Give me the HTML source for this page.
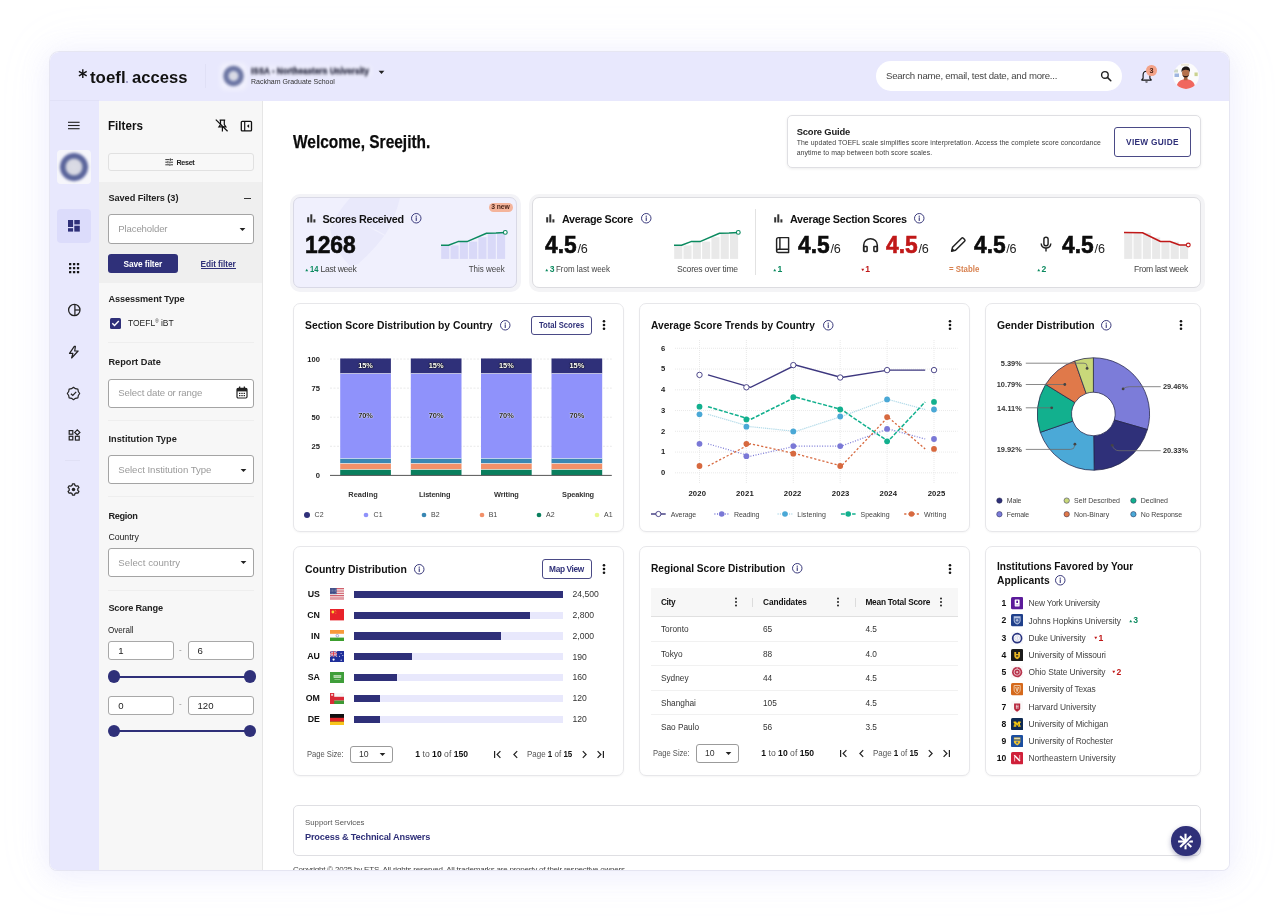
<!DOCTYPE html>
<html><head><meta charset="utf-8"><title>TOEFL Access</title>
<style>
*{box-sizing:border-box;margin:0;padding:0}
html,body{width:1280px;height:918px;overflow:hidden;background:#fff;font-family:"Liberation Sans",sans-serif;}
.t{position:absolute;white-space:nowrap;line-height:1;}
.frame{position:absolute;left:50px;top:52px;width:1179.2px;height:818.3px;border-radius:9px 9px 7px 7px;background:#fff;overflow:hidden;}
.shadow{position:absolute;left:50px;top:52px;width:1179.2px;height:818.3px;border-radius:9px 9px 7px 7px;box-shadow:0 0 0 1px rgba(224,224,238,.75),0 4px 26px 3px rgba(185,185,245,.19),0 0 50px 8px rgba(200,200,250,.07);}
.o{position:absolute;left:-50px;top:-52px;width:1280px;height:918px;will-change:transform;}
.card{position:absolute;background:#fff;border:1px solid #e7e7ea;border-radius:7px;box-shadow:0 1px 2px rgba(0,0,0,.04);}
b{font-weight:700}
</style></head><body>
<div class="shadow"></div>
<div class="frame"><div class="o">
<div style="position:absolute;left:50.00px;top:51.00px;width:1180.00px;height:49.60px;background:#e8e8fd;"></div>
<svg style="position:absolute;left:78.40px;top:68.90px;" width="9.6" height="9.4" viewBox="0 0 9.6 9.4"><g stroke="#111" stroke-width="1.4" stroke-linecap="butt"><line x1="4.8" y1="0.3" x2="4.8" y2="9"/><line x1="0.9" y1="2.4" x2="8.7" y2="6.9"/><line x1="0.9" y1="6.9" x2="8.7" y2="2.4"/></g></svg>
<div class="t" style="top:68.61px;font-size:17px;color:#111;font-weight:700;transform:scaleX(0.9920);transform-origin:0 50%;left:89.80px;">toefl</div>
<div style="position:absolute;left:126.10px;top:80.60px;width:2.30px;height:2.30px;background:#8d8db8;border-radius:50%;"></div>
<div class="t" style="top:68.61px;font-size:17px;color:#111;font-weight:700;transform:scaleX(0.9766);transform-origin:0 50%;left:131.60px;">access</div>
<div style="position:absolute;left:204.50px;top:64.00px;width:1.00px;height:24.00px;background:#e0e0f6;"></div>
<div style="position:absolute;left:220.00px;top:62.50px;width:27.00px;height:27.00px;background:rgba(255,255,255,.45);border-radius:6px;filter:blur(2.5px);"></div>
<div style="position:absolute;left:250.00px;top:65.00px;width:122.00px;height:12.00px;background:rgba(255,255,255,.28);border-radius:4px;filter:blur(2.5px);"></div>
<div style="position:absolute;left:221.50px;top:64.30px;width:23.50px;height:23.50px;border-radius:50%;background:radial-gradient(circle,#dcdde6 0,#d6d8e4 3.6px,#6e78a8 6.2px,#69739f 8.6px,#c9cce4 10.8px,rgba(232,232,253,0) 11.8px);filter:blur(1.1px);"></div>
<div class="t" style="top:66.47px;font-size:9.6px;color:#2c2d45;font-weight:700;transform:scaleX(0.8464);transform-origin:0 50%;left:251.00px;filter:blur(1.35px);-webkit-text-stroke:.4px #2c2d45;">ISSA - Northeastern University</div>
<div class="t" style="top:77.87px;font-size:7.6px;color:#333;transform:scaleX(0.9205);transform-origin:0 50%;left:251.00px;">Rackham Graduate School</div>
<svg style="position:absolute;left:377.50px;top:69.50px;" width="7" height="5" viewBox="0 0 7 5"><path d="M0.6 0.8 L6.4 0.8 L3.5 4 Z" fill="#222"/></svg>
<div style="position:absolute;left:875.50px;top:61.30px;width:246.50px;height:30.00px;background:#fff;border-radius:15px;"></div>
<div class="t" style="top:71.37px;font-size:9.6px;color:#444;letter-spacing:-0.242px;left:886.00px;">Search name, email, test date, and more...</div>
<svg style="position:absolute;left:1099.50px;top:70.00px;" width="12" height="12" viewBox="0 0 12 12"><circle cx="4.9" cy="4.9" r="3.3" fill="none" stroke="#222" stroke-width="1.4"/><line x1="7.4" y1="7.4" x2="10.8" y2="10.8" stroke="#222" stroke-width="1.5" stroke-linecap="round"/></svg>
<svg style="position:absolute;left:1139.50px;top:68.50px;" width="13" height="15" viewBox="0 0 13 15"><path d="M6.5 2.2 C4.2 2.2 3.1 3.9 3.1 6 L3.1 9.3 L1.8 10.6 L1.8 11.1 L11.2 11.1 L11.2 10.6 L9.9 9.3 L9.9 6 C9.9 3.9 8.8 2.2 6.5 2.2 Z" fill="none" stroke="#111" stroke-width="1.1" stroke-linejoin="round"/><path d="M5.3 12.4 a1.2 1.2 0 0 0 2.4 0 Z" fill="#111"/></svg>
<div style="position:absolute;left:1146.20px;top:65.20px;width:10.40px;height:10.40px;background:#f3a288;border-radius:50%;"></div>
<div class="t" style="top:66.91px;font-size:7.2px;color:#4a2015;font-weight:700;left:1149.40px;">3</div>
<svg style="position:absolute;left:1172.80px;top:63.10px;" width="26" height="26" viewBox="0 0 26 26"><defs><clipPath id="av"><circle cx="13" cy="13" r="12.9"/></clipPath></defs><g clip-path="url(#av)"><rect width="26" height="26" fill="#fbfbfc"/><rect x="1" y="6.5" width="4" height="3" fill="#b9c9b0" opacity=".7"/><rect x="1.5" y="10.5" width="4.5" height="3.5" fill="#6b8fd0" opacity=".65"/><rect x="21.5" y="9.5" width="3.2" height="3.6" fill="#b9c46c" opacity=".75"/><rect x="8" y="0.8" width="8" height="2" fill="#e8dcc0" opacity=".6"/><path d="M3.2 26 C3.6 18.5 8 16.3 12.8 16.3 C17.6 16.3 22 18.5 22.4 26 Z" fill="#f0675f"/><rect x="10.9" y="13" width="3.6" height="4.2" fill="#a4633f"/><ellipse cx="12.7" cy="10.1" rx="3.7" ry="4.6" fill="#b4714c"/><path d="M8.6 9.6 C8.1 4.8 10.6 3.6 12.9 3.6 C15.4 3.6 17.6 4.9 16.9 9.7 C16.4 7.5 15.6 6.7 12.8 6.7 C10 6.7 9.2 7.6 8.6 9.6 Z" fill="#1c1512"/><path d="M9.5 11.8 C10.2 15.3 15.2 15.3 15.9 11.8 C15 13.4 10.4 13.4 9.5 11.8 Z" fill="#2a1c16"/></g></svg>
<div style="position:absolute;left:50.00px;top:100.50px;width:48.50px;height:770.00px;background:#e8e8fd;"></div>
<div style="position:absolute;left:50.00px;top:100.10px;width:48.50px;height:1.00px;background:#e1e1f7;"></div>
<div style="position:absolute;left:98.50px;top:100.50px;width:164.00px;height:770.00px;background:#f7f7f7;border-right:1px solid #e6e6e6;"></div>
<svg style="position:absolute;left:68.00px;top:120.60px;" width="12" height="9" viewBox="0 0 12 9"><g fill="#222"><rect x="0" y="0.75" width="11.6" height="1.1"/><rect x="0" y="3.95" width="11.6" height="1.1"/><rect x="0" y="7.15" width="11.6" height="1.1"/></g></svg>
<div style="position:absolute;left:57.00px;top:150.00px;width:33.50px;height:34.00px;background:#f6f6fb;border-radius:4px;filter:blur(.7px);"></div>
<div style="position:absolute;left:58.50px;top:151.70px;width:30.60px;height:30.60px;border-radius:50%;background:radial-gradient(circle,#dcdde6 0,#d6d7e2 7px,#5f6a9c 9.5px,#56609a 12.5px,#cfd2e6 14.8px,rgba(246,246,251,0) 15.3px);filter:blur(.8px);"></div>
<div style="position:absolute;left:56.60px;top:209.00px;width:34.20px;height:33.60px;background:#dcdcfb;border-radius:4px;"></div>
<svg style="position:absolute;left:68.00px;top:220.30px;" width="12" height="12" viewBox="0 0 12 12"><g fill="#2f3079"><rect x="0" y="0" width="5.1" height="7"/><rect x="6.3" y="0" width="5.5" height="4.4"/><rect x="0" y="8.2" width="5.1" height="3.4"/><rect x="6.3" y="5.7" width="5.5" height="5.9"/></g></svg>
<svg style="position:absolute;left:68.90px;top:262.90px;" width="11" height="11" viewBox="0 0 11 11"><rect x="0.0" y="0.0" width="2.3" height="2.3" rx=".5" fill="#151515"/><rect x="0.0" y="3.95" width="2.3" height="2.3" rx=".5" fill="#151515"/><rect x="0.0" y="7.9" width="2.3" height="2.3" rx=".5" fill="#151515"/><rect x="3.95" y="0.0" width="2.3" height="2.3" rx=".5" fill="#151515"/><rect x="3.95" y="3.95" width="2.3" height="2.3" rx=".5" fill="#151515"/><rect x="3.95" y="7.9" width="2.3" height="2.3" rx=".5" fill="#151515"/><rect x="7.9" y="0.0" width="2.3" height="2.3" rx=".5" fill="#151515"/><rect x="7.9" y="3.95" width="2.3" height="2.3" rx=".5" fill="#151515"/><rect x="7.9" y="7.9" width="2.3" height="2.3" rx=".5" fill="#151515"/></svg>
<svg style="position:absolute;left:66.70px;top:302.70px;" width="15" height="15" viewBox="0 0 15 15"><g fill="none" stroke="#222" stroke-width="1.25"><circle cx="7.3" cy="7" r="5.7"/><line x1="7.9" y1="1.3" x2="7.9" y2="12.7"/><line x1="7.9" y1="7" x2="13" y2="7"/></g></svg>
<svg style="position:absolute;left:68.20px;top:344.50px;" width="12" height="15" viewBox="0 0 12 15"><path d="M6.3 1.3 L1.5 8.4 L4.9 8.4 L3.6 13 L10.1 6 L6.7 6 L7.4 1.3 Z" fill="none" stroke="#222" stroke-width="1.2" stroke-linejoin="round"/></svg>
<svg style="position:absolute;left:66.30px;top:385.90px;" width="15" height="15" viewBox="0 0 15 15"><path d="M7.50 1.30 L9.49 2.70 L11.88 3.12 L12.30 5.51 L13.70 7.50 L12.30 9.49 L11.88 11.88 L9.49 12.30 L7.50 13.70 L5.51 12.30 L3.12 11.88 L2.70 9.49 L1.30 7.50 L2.70 5.51 L3.12 3.12 L5.51 2.70 Z" fill="none" stroke="#222" stroke-width="1.2" stroke-linejoin="round"/><path d="M4.9 7.7 L6.8 9.5 L10.2 5.9" fill="none" stroke="#222" stroke-width="1.2"/></svg>
<svg style="position:absolute;left:67.60px;top:429.40px;" width="13" height="12.5" viewBox="0 0 13 12.5"><g fill="none" stroke="#222" stroke-width="1.2"><rect x="1.2" y="1.6" width="3.6" height="3.6"/><rect x="1.2" y="7.3" width="3.6" height="3.6"/><rect x="7.4" y="7.3" width="3.8" height="3.8"/><path d="M9.3 0.8 L11.9 3.4 L9.3 6 L6.7 3.4 Z"/></g></svg>
<div style="position:absolute;left:65.00px;top:460.00px;width:15.00px;height:1.00px;background:#e0e0f5;"></div>
<svg style="position:absolute;left:66.45px;top:481.90px;" width="15" height="15" viewBox="0 0 15 15"><path d="M6.08 3.39 L6.45 1.85 L8.55 1.85 L8.92 3.39 L10.35 4.22 L11.87 3.77 L12.92 5.58 L11.77 6.67 L11.77 8.33 L12.92 9.42 L11.87 11.23 L10.35 10.78 L8.92 11.61 L8.55 13.15 L6.45 13.15 L6.08 11.61 L4.65 10.78 L3.13 11.23 L2.08 9.42 L3.23 8.33 L3.23 6.67 L2.08 5.58 L3.13 3.77 L4.65 4.22 Z" fill="none" stroke="#222" stroke-width="1.25" stroke-linejoin="round"/><circle cx="7.5" cy="7.5" r="1.75" fill="#222"/></svg>
<div class="t" style="top:119.50px;font-size:12.4px;color:#111;font-weight:700;transform:scaleX(0.9405);transform-origin:0 50%;left:108.40px;">Filters</div>
<svg style="position:absolute;left:214.50px;top:119.20px;" width="13.5" height="13.5" viewBox="0 0 13.5 13.5"><g stroke="#111" stroke-width="1.2" fill="none"><path d="M4.6 1.2 L10.2 1.2 M5.5 1.4 L5.5 5.6 L3.9 7.9 L10.9 7.9 L9.3 5.6 L9.3 1.4 M7.4 8 L7.4 12.6"/><line x1="0.8" y1="0.6" x2="12.6" y2="12.2" stroke-width="1.3"/></g></svg>
<svg style="position:absolute;left:239.70px;top:119.60px;" width="13" height="12.5" viewBox="0 0 13 12.5"><rect x="1.3" y="1.3" width="10.2" height="9.6" rx="1" fill="none" stroke="#111" stroke-width="1.3"/><line x1="4.7" y1="1.3" x2="4.7" y2="10.9" stroke="#111" stroke-width="1.2"/><path d="M6.9 6.1 L9.1 4.2 L9.1 8 Z" fill="#111"/></svg>
<div style="position:absolute;left:108.40px;top:152.50px;width:145.30px;height:18.90px;border:1px solid #e1e1e1;border-radius:3px;background:#f8f8f8;"></div>
<svg style="position:absolute;left:164.60px;top:158.00px;" width="8.5" height="8.5" viewBox="0 0 8.5 8.5"><g stroke="#222" stroke-width=".9" fill="none"><path d="M0.3 1.6 H4.6 M6.2 1.6 H8 M0.3 4.2 H2.1 M3.8 4.2 H8 M0.3 6.8 H4 M5.7 6.8 H8 M5.4 0.4 V2.8 M2.9 3 V5.4 M4.9 5.6 V8"/></g></svg>
<div class="t" style="top:158.51px;font-size:7.2px;color:#222;font-weight:700;letter-spacing:-0.328px;left:176.50px;">Reset</div>
<div style="position:absolute;left:98.50px;top:182.00px;width:163.50px;height:101.00px;background:#efefef;"></div>
<div class="t" style="top:194.21px;font-size:9.2px;color:#222;font-weight:700;letter-spacing:-0.055px;left:108.40px;">Saved Filters (3)</div>
<div style="position:absolute;left:243.60px;top:197.50px;width:7.40px;height:1.10px;background:#333;"></div>
<div style="position:absolute;left:108.40px;top:214.40px;width:145.20px;height:29.20px;background:#fff;border:1px solid #a4a4a4;border-radius:3px;"></div>
<div class="t" style="top:224.17px;font-size:9.6px;color:#9a9a9a;letter-spacing:-0.140px;left:118.30px;">Placeholder</div>
<svg style="position:absolute;left:238.50px;top:226.50px;" width="7" height="5" viewBox="0 0 7 5"><path d="M0.6 0.9 L6.4 0.9 L3.5 4.1 Z" fill="#222"/></svg>
<div style="position:absolute;left:108.40px;top:254.00px;width:70.00px;height:19.30px;background:#2f3079;border-radius:3px;"></div>
<div class="t" style="top:259.57px;font-size:8.3px;color:#fff;font-weight:700;letter-spacing:-0.098px;left:123.60px;">Save filter</div>
<div class="t" style="top:259.57px;font-size:8.3px;color:#2f3079;font-weight:700;letter-spacing:-0.077px;left:200.50px;border-bottom:1px solid #2f3079;padding-bottom:0.3px;">Edit filter</div>
<div class="t" style="top:295.21px;font-size:9.2px;color:#222;font-weight:700;letter-spacing:-0.090px;left:108.40px;">Assessment Type</div>
<div style="position:absolute;left:110.00px;top:318.30px;width:11.00px;height:10.40px;background:#2f3079;border-radius:1.5px;"></div>
<svg style="position:absolute;left:110.00px;top:318.30px;" width="11" height="10.4" viewBox="0 0 11 10.4"><path d="M2.3 5.3 L4.5 7.5 L8.8 3" fill="none" stroke="#fff" stroke-width="1.4"/></svg>
<div class="t" style="top:319.13px;font-size:9.3px;color:#222;transform:scaleX(0.9118);transform-origin:0 50%;left:128.30px;">TOEFL<span style="font-size:5px;vertical-align:3.2px;">&reg;</span> iBT</div>
<div style="position:absolute;left:108.40px;top:342.00px;width:145.20px;height:1.00px;background:#eeeeee;"></div>
<div class="t" style="top:357.51px;font-size:9.2px;color:#222;font-weight:700;letter-spacing:0.036px;left:108.40px;">Report Date</div>
<div style="position:absolute;left:108.40px;top:378.60px;width:145.20px;height:29.00px;background:#fff;border:1px solid #a4a4a4;border-radius:3px;"></div>
<div class="t" style="top:388.37px;font-size:9.6px;color:#9a9a9a;letter-spacing:-0.129px;left:118.30px;">Select date or range</div>
<svg style="position:absolute;left:236.40px;top:386.30px;" width="12" height="13" viewBox="0 0 12 13"><rect x="1" y="2.3" width="10" height="9.7" rx="1.2" fill="none" stroke="#222" stroke-width="1.2"/><rect x="1" y="2.3" width="10" height="3.1" fill="#222"/><rect x="3" y="0.5" width="1.3" height="2.5" fill="#222"/><rect x="7.7" y="0.5" width="1.3" height="2.5" fill="#222"/><g fill="#222"><rect x="3" y="6.8" width="1.4" height="1.2"/><rect x="5.3" y="6.8" width="1.4" height="1.2"/><rect x="7.6" y="6.8" width="1.4" height="1.2"/><rect x="3" y="9" width="1.4" height="1.2"/><rect x="5.3" y="9" width="1.4" height="1.2"/><rect x="7.6" y="9" width="1.4" height="1.2"/></g></svg>
<div style="position:absolute;left:108.40px;top:420.00px;width:145.20px;height:1.00px;background:#eeeeee;"></div>
<div class="t" style="top:434.61px;font-size:9.2px;color:#222;font-weight:700;letter-spacing:0.046px;left:108.40px;">Institution Type</div>
<div style="position:absolute;left:108.40px;top:455.20px;width:145.20px;height:29.20px;background:#fff;border:1px solid #a4a4a4;border-radius:3px;"></div>
<div class="t" style="top:465.07px;font-size:9.6px;color:#9a9a9a;letter-spacing:-0.025px;left:118.30px;">Select Institution Type</div>
<svg style="position:absolute;left:239.80px;top:467.50px;" width="7" height="5" viewBox="0 0 7 5"><path d="M0.6 0.9 L6.4 0.9 L3.5 4.1 Z" fill="#222"/></svg>
<div style="position:absolute;left:108.40px;top:496.30px;width:145.20px;height:1.00px;background:#eeeeee;"></div>
<div class="t" style="top:511.51px;font-size:9.2px;color:#222;font-weight:700;letter-spacing:-0.335px;left:108.40px;">Region</div>
<div class="t" style="top:533.35px;font-size:8.8px;color:#222;letter-spacing:-0.052px;left:108.40px;">Country</div>
<div style="position:absolute;left:108.40px;top:548.00px;width:145.20px;height:29.30px;background:#fff;border:1px solid #a4a4a4;border-radius:3px;"></div>
<div class="t" style="top:557.87px;font-size:9.6px;color:#9a9a9a;letter-spacing:0.075px;left:118.30px;">Select country</div>
<svg style="position:absolute;left:239.80px;top:560.30px;" width="7" height="5" viewBox="0 0 7 5"><path d="M0.6 0.9 L6.4 0.9 L3.5 4.1 Z" fill="#222"/></svg>
<div style="position:absolute;left:108.40px;top:589.50px;width:145.20px;height:1.00px;background:#eeeeee;"></div>
<div class="t" style="top:604.41px;font-size:9.2px;color:#222;font-weight:700;letter-spacing:-0.154px;left:108.40px;">Score Range</div>
<div class="t" style="top:626.15px;font-size:8.8px;color:#222;transform:scaleX(0.9184);transform-origin:0 50%;left:108.40px;">Overall</div>
<div style="position:absolute;left:108.40px;top:640.80px;width:65.40px;height:19.60px;background:#fff;border:1px solid #a8a8a8;border-radius:3px;"></div>
<div class="t" style="top:646.07px;font-size:9.6px;color:#222;left:118.20px;">1</div>
<div class="t" style="top:645.53px;font-size:8px;color:#888;left:178.97px;">-</div>
<div style="position:absolute;left:187.70px;top:640.80px;width:65.90px;height:19.60px;background:#fff;border:1px solid #a8a8a8;border-radius:3px;"></div>
<div class="t" style="top:646.07px;font-size:9.6px;color:#222;left:197.50px;">6</div>
<div style="position:absolute;left:110.00px;top:675.50px;width:142.00px;height:2.00px;background:#2f3079;"></div>
<div style="position:absolute;left:107.50px;top:670.40px;width:12.20px;height:12.20px;background:#2f3079;border-radius:50%;"></div>
<div style="position:absolute;left:243.70px;top:670.40px;width:12.20px;height:12.20px;background:#2f3079;border-radius:50%;"></div>
<div style="position:absolute;left:108.40px;top:695.50px;width:65.40px;height:19.60px;background:#fff;border:1px solid #a8a8a8;border-radius:3px;"></div>
<div class="t" style="top:700.77px;font-size:9.6px;color:#222;left:118.20px;">0</div>
<div class="t" style="top:700.23px;font-size:8px;color:#888;left:178.97px;">-</div>
<div style="position:absolute;left:187.70px;top:695.50px;width:65.90px;height:19.60px;background:#fff;border:1px solid #a8a8a8;border-radius:3px;"></div>
<div class="t" style="top:700.77px;font-size:9.6px;color:#222;left:197.50px;">120</div>
<div style="position:absolute;left:110.00px;top:729.80px;width:142.00px;height:2.00px;background:#2f3079;"></div>
<div style="position:absolute;left:107.50px;top:724.70px;width:12.20px;height:12.20px;background:#2f3079;border-radius:50%;"></div>
<div style="position:absolute;left:243.70px;top:724.70px;width:12.20px;height:12.20px;background:#2f3079;border-radius:50%;"></div>
<div class="t" style="top:132.86px;font-size:18.6px;color:#0c0c0c;font-weight:700;transform:scaleX(0.8325);transform-origin:0 50%;left:293.20px;-webkit-text-stroke:.25px #0c0c0c;">Welcome, Sreejith.</div>
<div style="position:absolute;left:787.00px;top:115.30px;width:413.70px;height:52.40px;background:#fff;border:1px solid #dfdfe3;border-radius:5px;box-shadow:0 1px 3px rgba(0,0,0,.07);"></div>
<div class="t" style="top:126.94px;font-size:9.4px;color:#1a1a1a;font-weight:700;letter-spacing:-0.167px;left:796.70px;">Score Guide</div>
<div class="t" style="top:139.66px;font-size:6.9px;color:#3c3c3c;letter-spacing:0.059px;left:796.70px;">The updated TOEFL scale simplifies score interpretation. Access the complete score concordance</div>
<div class="t" style="top:149.96px;font-size:6.9px;color:#3c3c3c;letter-spacing:0.072px;left:796.70px;">anytime to map between both score scales.</div>
<div style="position:absolute;left:1113.60px;top:126.80px;width:77.40px;height:29.80px;border:1px solid #4a4a86;border-radius:3px;background:#fff;"></div>
<div class="t" style="top:137.67px;font-size:8.3px;color:#2f3079;font-weight:700;letter-spacing:0.299px;left:1126.05px;">VIEW GUIDE</div>
<div style="position:absolute;left:289.70px;top:193.60px;width:231.00px;height:98.40px;background:#f3f3f7;border-radius:10px;"></div>
<div style="position:absolute;left:528.50px;top:193.60px;width:676.00px;height:98.40px;background:#f4f4f6;border-radius:10px;"></div>
<div style="position:absolute;left:293.30px;top:197.20px;width:223.80px;height:91.30px;background:#f0f0fd;border:1px solid #d9d9e6;border-radius:7px;overflow:hidden;"><svg width="224" height="91" viewBox="0 0 224 91" style="position:absolute;left:0;top:0"><path d="M56 0 Q41 17 36 31 Q40 52 56 68 L64 66 Q80 52 91 37 Q101 21 106 0 Z" fill="#e9e9fb"/><line x1="71" y1="26.5" x2="93" y2="38.5" stroke="#f0f0fd" stroke-width="1.3"/></svg></div>
<svg style="position:absolute;left:306.50px;top:214.20px;" width="9" height="9" viewBox="0 0 9 9"><rect x="0.2" y="3.2" width="2" height="5.3" fill="#333"/><rect x="3.3" y="0.3" width="2" height="8.2" fill="#333"/><rect x="6.4" y="5.3" width="2" height="3.2" fill="#333"/></svg>
<div class="t" style="top:213.66px;font-size:10.8px;color:#111;font-weight:700;letter-spacing:-0.354px;left:322.50px;">Scores Received</div>
<svg style="position:absolute;left:410.05px;top:212.45px;" width="12.5" height="12.5" viewBox="0 0 12.5 12.5"><circle cx="6.25" cy="6.25" r="4.75" fill="none" stroke="#3a3a7c" stroke-width="1"/><circle cx="6.25" cy="4.15" r="0.7" fill="#3a3a7c"/><rect x="5.7" y="5.35" width="1.1" height="3.6" fill="#3a3a7c"/></svg>
<div style="position:absolute;left:488.50px;top:202.80px;width:24.00px;height:9.30px;background:#f4b49b;border-radius:4.5px;"></div>
<div class="t" style="top:204.24px;font-size:6.8px;color:#4b2418;font-weight:700;letter-spacing:-0.099px;left:491.25px;">3 new</div>
<div class="t" style="top:232.98px;font-size:24.6px;color:#0c0c0c;font-weight:700;transform:scaleX(0.9264);transform-origin:0 50%;left:305.30px;-webkit-text-stroke:.6px #0c0c0c;">1268</div>
<svg style="position:absolute;left:305.30px;top:267.50px;" width="4" height="4" viewBox="0 0 4 4"><path d="M0.3 3.2 L3.2 3.2 L1.75 0.8 Z" fill="#0b8a5f"/></svg>
<div class="t" style="top:264.72px;font-size:8.6px;color:#0b8a5f;font-weight:700;transform:scaleX(0.8781);transform-origin:0 50%;left:310.20px;">14</div>
<div class="t" style="top:264.72px;font-size:8.6px;color:#444;letter-spacing:-0.303px;left:320.60px;">Last week</div>
<svg style="position:absolute;left:441.00px;top:225.00px;overflow:visible;" width="70" height="36" viewBox="0 0 70 36"><rect x="0.20" y="20.40" width="8.1" height="13.50" fill="#d9d9f8"/><rect x="9.50" y="20.40" width="8.1" height="13.50" fill="#d9d9f8"/><rect x="18.80" y="16.60" width="8.1" height="17.30" fill="#d9d9f8"/><rect x="28.10" y="16.60" width="8.1" height="17.30" fill="#d9d9f8"/><rect x="37.40" y="12.20" width="8.1" height="21.70" fill="#d9d9f8"/><rect x="46.70" y="8.20" width="8.1" height="25.70" fill="#d9d9f8"/><rect x="56.00" y="7.60" width="8.1" height="26.30" fill="#d9d9f8"/><path d="M0.0 20.20 L7.5 20.20 L17.0 16.60 L26.0 16.60 L45.5 8.20 L55.0 8.10 L64.3 7.40" fill="none" stroke="#0b8a5f" stroke-width="1.5" stroke-linejoin="round"/><circle cx="64.3" cy="7.40" r="1.9" fill="#fff" stroke="#0b8a5f" stroke-width="1.1"/></svg>
<div class="t" style="top:264.72px;font-size:8.6px;color:#444;transform:scaleX(0.9299);transform-origin:100% 50%;left:466.29px;">This week</div>
<div style="position:absolute;left:532.40px;top:197.20px;width:668.30px;height:91.30px;background:#fff;border:1px solid #dcdce0;border-radius:7px;"></div>
<svg style="position:absolute;left:545.60px;top:214.20px;" width="9" height="9" viewBox="0 0 9 9"><rect x="0.2" y="3.2" width="2" height="5.3" fill="#333"/><rect x="3.3" y="0.3" width="2" height="8.2" fill="#333"/><rect x="6.4" y="5.3" width="2" height="3.2" fill="#333"/></svg>
<div class="t" style="top:213.66px;font-size:10.8px;color:#111;font-weight:700;letter-spacing:-0.337px;left:562.00px;">Average Score</div>
<svg style="position:absolute;left:639.75px;top:212.45px;" width="12.5" height="12.5" viewBox="0 0 12.5 12.5"><circle cx="6.25" cy="6.25" r="4.75" fill="none" stroke="#3a3a7c" stroke-width="1"/><circle cx="6.25" cy="4.15" r="0.7" fill="#3a3a7c"/><rect x="5.7" y="5.35" width="1.1" height="3.6" fill="#3a3a7c"/></svg>
<div class="t" style="top:232.98px;font-size:24.6px;color:#0c0c0c;font-weight:700;transform:scaleX(0.9270);transform-origin:0 50%;left:544.70px;-webkit-text-stroke:.6px #0c0c0c;">4.5</div>
<div class="t" style="top:243.13px;font-size:12.6px;color:#222;letter-spacing:-0.208px;left:577.40px;">/6</div>
<svg style="position:absolute;left:544.90px;top:267.50px;" width="4" height="4" viewBox="0 0 4 4"><path d="M0.3 3.2 L3.2 3.2 L1.75 0.8 Z" fill="#0b8a5f"/></svg>
<div class="t" style="top:264.72px;font-size:8.6px;color:#0b8a5f;font-weight:700;left:549.70px;">3</div>
<div class="t" style="top:264.72px;font-size:8.6px;color:#444;transform:scaleX(0.9262);transform-origin:0 50%;left:556.30px;">From last week</div>
<svg style="position:absolute;left:674.00px;top:225.00px;overflow:visible;" width="70" height="36" viewBox="0 0 70 36"><rect x="0.20" y="20.40" width="8.1" height="13.50" fill="#e9e9e9"/><rect x="9.50" y="20.40" width="8.1" height="13.50" fill="#e9e9e9"/><rect x="18.80" y="16.60" width="8.1" height="17.30" fill="#e9e9e9"/><rect x="28.10" y="16.60" width="8.1" height="17.30" fill="#e9e9e9"/><rect x="37.40" y="12.20" width="8.1" height="21.70" fill="#e9e9e9"/><rect x="46.70" y="8.20" width="8.1" height="25.70" fill="#e9e9e9"/><rect x="56.00" y="7.60" width="8.1" height="26.30" fill="#e9e9e9"/><path d="M0.0 20.20 L7.5 20.20 L17.0 16.60 L26.0 16.60 L45.5 8.20 L55.0 8.10 L64.3 7.40" fill="none" stroke="#0b8a5f" stroke-width="1.5" stroke-linejoin="round"/><circle cx="64.3" cy="7.40" r="1.9" fill="#fff" stroke="#0b8a5f" stroke-width="1.1"/></svg>
<div class="t" style="top:264.72px;font-size:8.6px;color:#444;letter-spacing:-0.222px;left:677.00px;">Scores over time</div>
<div style="position:absolute;left:755.00px;top:208.80px;width:1.00px;height:66.50px;background:#e2e2e2;"></div>
<svg style="position:absolute;left:774.30px;top:214.20px;" width="9" height="9" viewBox="0 0 9 9"><rect x="0.2" y="3.2" width="2" height="5.3" fill="#333"/><rect x="3.3" y="0.3" width="2" height="8.2" fill="#333"/><rect x="6.4" y="5.3" width="2" height="3.2" fill="#333"/></svg>
<div class="t" style="top:213.66px;font-size:10.8px;color:#111;font-weight:700;letter-spacing:-0.298px;left:790.00px;">Average Section Scores</div>
<svg style="position:absolute;left:913.25px;top:212.45px;" width="12.5" height="12.5" viewBox="0 0 12.5 12.5"><circle cx="6.25" cy="6.25" r="4.75" fill="none" stroke="#3a3a7c" stroke-width="1"/><circle cx="6.25" cy="4.15" r="0.7" fill="#3a3a7c"/><rect x="5.7" y="5.35" width="1.1" height="3.6" fill="#3a3a7c"/></svg>
<svg style="position:absolute;left:774.60px;top:236.00px;" width="16" height="18" viewBox="0 0 16 18"><g fill="none" stroke="#222" stroke-width="1.45" stroke-linejoin="round"><path d="M3.6 1.6 L13.6 1.6 L13.6 13.2 L3.4 13.2 C2.3 13.2 1.6 14 1.6 14.9 L1.6 3.6 C1.6 2.5 2.5 1.6 3.6 1.6 Z"/><path d="M1.6 14.9 C1.6 15.9 2.3 16.5 3.4 16.5 L13.6 16.5 L13.6 13.2"/><line x1="4.9" y1="1.6" x2="4.9" y2="13.2"/></g></svg>
<div class="t" style="top:232.98px;font-size:24.6px;color:#0c0c0c;font-weight:700;transform:scaleX(0.9270);transform-origin:0 50%;left:797.80px;-webkit-text-stroke:.6px #0c0c0c;">4.5</div>
<div class="t" style="top:243.13px;font-size:12.6px;color:#222;letter-spacing:-0.208px;left:830.50px;">/6</div>
<svg style="position:absolute;left:772.80px;top:267.50px;" width="4" height="4" viewBox="0 0 4 4"><path d="M0.3 3.2 L3.2 3.2 L1.75 0.8 Z" fill="#0b8a5f"/></svg>
<div class="t" style="top:264.72px;font-size:8.6px;color:#0b8a5f;font-weight:700;left:777.50px;">1</div>
<svg style="position:absolute;left:862.00px;top:236.60px;" width="17" height="16" viewBox="0 0 17 16"><g fill="none" stroke="#222" stroke-width="1.55"><path d="M1.7 14.2 L1.7 8.3 C1.7 4.4 4.7 1.7 8.5 1.7 C12.3 1.7 15.3 4.4 15.3 8.3 L15.3 14.2"/><rect x="1.7" y="9.4" width="3.4" height="5" rx=".7"/><rect x="11.9" y="9.4" width="3.4" height="5" rx=".7"/></g></svg>
<div class="t" style="top:232.98px;font-size:24.6px;color:#c01818;font-weight:700;transform:scaleX(0.9270);transform-origin:0 50%;left:885.80px;-webkit-text-stroke:.6px #c01818;">4.5</div>
<div class="t" style="top:243.13px;font-size:12.6px;color:#222;letter-spacing:-0.208px;left:918.50px;">/6</div>
<svg style="position:absolute;left:860.60px;top:267.50px;" width="4" height="4" viewBox="0 0 4 4"><path d="M0.3 0.8 L3.2 0.8 L1.75 3.2 Z" fill="#c01818"/></svg>
<div class="t" style="top:264.72px;font-size:8.6px;color:#c01818;font-weight:700;left:865.30px;">1</div>
<svg style="position:absolute;left:950.20px;top:236.40px;" width="17" height="17" viewBox="0 0 17 17"><g fill="none" stroke="#222" stroke-width="1.5" stroke-linejoin="round"><path d="M1.6 15.2 L2.5 11.3 L11.6 2.2 C12.1 1.7 12.8 1.7 13.3 2.2 L14.6 3.5 C15.1 4 15.1 4.7 14.6 5.2 L5.5 14.3 Z"/></g><path d="M1.4 15.4 L2.3 11.9 L4.9 14.5 Z" fill="#222"/></svg>
<div class="t" style="top:232.98px;font-size:24.6px;color:#0c0c0c;font-weight:700;transform:scaleX(0.9270);transform-origin:0 50%;left:973.60px;-webkit-text-stroke:.6px #0c0c0c;">4.5</div>
<div class="t" style="top:243.13px;font-size:12.6px;color:#222;letter-spacing:-0.208px;left:1006.30px;">/6</div>
<div class="t" style="top:264.72px;font-size:8.6px;color:#d8814f;font-weight:700;transform:scaleX(0.9121);transform-origin:0 50%;left:949.20px;">= Stable</div>
<svg style="position:absolute;left:1039.20px;top:236.20px;" width="14" height="17" viewBox="0 0 14 17"><g fill="none" stroke="#222" stroke-width="1.45"><rect x="4.9" y="1.2" width="4.2" height="8.6" rx="2.1"/><path d="M2.2 7.6 C2.2 13.4 11.8 13.4 11.8 7.6"/><line x1="7" y1="12" x2="7" y2="15.6"/></g></svg>
<div class="t" style="top:232.98px;font-size:24.6px;color:#0c0c0c;font-weight:700;transform:scaleX(0.9270);transform-origin:0 50%;left:1061.90px;-webkit-text-stroke:.6px #0c0c0c;">4.5</div>
<div class="t" style="top:243.13px;font-size:12.6px;color:#222;letter-spacing:-0.208px;left:1094.60px;">/6</div>
<svg style="position:absolute;left:1036.80px;top:267.50px;" width="4" height="4" viewBox="0 0 4 4"><path d="M0.3 3.2 L3.2 3.2 L1.75 0.8 Z" fill="#0b8a5f"/></svg>
<div class="t" style="top:264.72px;font-size:8.6px;color:#0b8a5f;font-weight:700;left:1041.60px;">2</div>
<svg style="position:absolute;left:1124.20px;top:225.00px;overflow:visible;" width="70" height="36" viewBox="0 0 70 36"><rect x="0.20" y="7.60" width="8.1" height="26.30" fill="#e9e9e9"/><rect x="9.50" y="7.90" width="8.1" height="26.00" fill="#e9e9e9"/><rect x="18.80" y="7.90" width="8.1" height="26.00" fill="#e9e9e9"/><rect x="28.10" y="12.50" width="8.1" height="21.40" fill="#e9e9e9"/><rect x="37.40" y="16.60" width="8.1" height="17.30" fill="#e9e9e9"/><rect x="46.70" y="16.80" width="8.1" height="17.10" fill="#e9e9e9"/><rect x="56.00" y="20.20" width="8.1" height="13.70" fill="#e9e9e9"/><path d="M0.0 7.40 L18.5 7.80 L36.5 16.50 L46.0 16.50 L55.5 20.00 L64.3 20.00" fill="none" stroke="#c01818" stroke-width="1.5" stroke-linejoin="round"/><circle cx="64.3" cy="20.00" r="1.9" fill="#fff" stroke="#c01818" stroke-width="1.1"/></svg>
<div class="t" style="top:264.72px;font-size:8.6px;color:#444;letter-spacing:-0.300px;left:1134.00px;">From last week</div>
<div class="card" style="left:292.6px;top:303px;width:331.2px;height:228.9px;"></div>
<div class="t" style="top:320.19px;font-size:11px;color:#111;font-weight:700;transform:scaleX(0.9416);transform-origin:0 50%;left:305.20px;">Section Score Distribution by Country</div>
<svg style="position:absolute;left:499.15px;top:319.25px;" width="12.5" height="12.5" viewBox="0 0 12.5 12.5"><circle cx="6.25" cy="6.25" r="4.75" fill="none" stroke="#3a3a7c" stroke-width="1"/><circle cx="6.25" cy="4.15" r="0.7" fill="#3a3a7c"/><rect x="5.7" y="5.35" width="1.1" height="3.6" fill="#3a3a7c"/></svg>
<div style="position:absolute;left:530.60px;top:315.50px;width:61.20px;height:19.40px;border:1px solid #4a4a86;border-radius:3px;background:#fff;"></div>
<div class="t" style="top:321.27px;font-size:8.3px;color:#2f3079;font-weight:700;transform:scaleX(0.9227);transform-origin:50% 50%;left:536.60px;">Total Scores</div>
<svg style="position:absolute;left:601.10px;top:317.30px;" width="6" height="16" viewBox="0 0 6 16"><circle cx="3" cy="4.3" r="1.3" fill="#151515"/><circle cx="3" cy="8.0" r="1.3" fill="#151515"/><circle cx="3" cy="11.7" r="1.3" fill="#151515"/></svg>
<svg style="position:absolute;left:0.00px;top:0.00px;" width="1280" height="918" viewBox="0 0 1280 918"><line x1="330" y1="446.31" x2="611.8" y2="446.31" stroke="#e4e4e4" stroke-width="0.8" stroke-dasharray="2 1.5"/><line x1="330" y1="417.22" x2="611.8" y2="417.22" stroke="#e4e4e4" stroke-width="0.8" stroke-dasharray="2 1.5"/><line x1="330" y1="388.14" x2="611.8" y2="388.14" stroke="#e4e4e4" stroke-width="0.8" stroke-dasharray="2 1.5"/><line x1="330" y1="359.05" x2="611.8" y2="359.05" stroke="#e4e4e4" stroke-width="0.8" stroke-dasharray="2 1.5"/><rect x="340.2" y="469.35" width="50.7" height="6.05" fill="#0a7f5e"/><rect x="340.2" y="463.30" width="50.7" height="6.05" fill="#f29069"/><rect x="340.2" y="458.30" width="50.7" height="5.00" fill="#3987b3"/><rect x="340.2" y="373.48" width="50.7" height="84.82" fill="#8f92fb"/><rect x="340.2" y="358.47" width="50.7" height="15.01" fill="#2f3079"/><rect x="340.2" y="469.05" width="50.7" height="0.6" fill="#fff" opacity=".85"/><rect x="340.2" y="463.00" width="50.7" height="0.6" fill="#fff" opacity=".85"/><rect x="340.2" y="458.00" width="50.7" height="0.6" fill="#fff" opacity=".85"/><rect x="340.2" y="373.18" width="50.7" height="0.6" fill="#fff" opacity=".85"/><rect x="410.8" y="469.35" width="50.7" height="6.05" fill="#0a7f5e"/><rect x="410.8" y="463.30" width="50.7" height="6.05" fill="#f29069"/><rect x="410.8" y="458.30" width="50.7" height="5.00" fill="#3987b3"/><rect x="410.8" y="373.48" width="50.7" height="84.82" fill="#8f92fb"/><rect x="410.8" y="358.47" width="50.7" height="15.01" fill="#2f3079"/><rect x="410.8" y="469.05" width="50.7" height="0.6" fill="#fff" opacity=".85"/><rect x="410.8" y="463.00" width="50.7" height="0.6" fill="#fff" opacity=".85"/><rect x="410.8" y="458.00" width="50.7" height="0.6" fill="#fff" opacity=".85"/><rect x="410.8" y="373.18" width="50.7" height="0.6" fill="#fff" opacity=".85"/><rect x="481" y="469.35" width="50.7" height="6.05" fill="#0a7f5e"/><rect x="481" y="463.30" width="50.7" height="6.05" fill="#f29069"/><rect x="481" y="458.30" width="50.7" height="5.00" fill="#3987b3"/><rect x="481" y="373.48" width="50.7" height="84.82" fill="#8f92fb"/><rect x="481" y="358.47" width="50.7" height="15.01" fill="#2f3079"/><rect x="481" y="469.05" width="50.7" height="0.6" fill="#fff" opacity=".85"/><rect x="481" y="463.00" width="50.7" height="0.6" fill="#fff" opacity=".85"/><rect x="481" y="458.00" width="50.7" height="0.6" fill="#fff" opacity=".85"/><rect x="481" y="373.18" width="50.7" height="0.6" fill="#fff" opacity=".85"/><rect x="551.5" y="469.35" width="50.7" height="6.05" fill="#0a7f5e"/><rect x="551.5" y="463.30" width="50.7" height="6.05" fill="#f29069"/><rect x="551.5" y="458.30" width="50.7" height="5.00" fill="#3987b3"/><rect x="551.5" y="373.48" width="50.7" height="84.82" fill="#8f92fb"/><rect x="551.5" y="358.47" width="50.7" height="15.01" fill="#2f3079"/><rect x="551.5" y="469.05" width="50.7" height="0.6" fill="#fff" opacity=".85"/><rect x="551.5" y="463.00" width="50.7" height="0.6" fill="#fff" opacity=".85"/><rect x="551.5" y="458.00" width="50.7" height="0.6" fill="#fff" opacity=".85"/><rect x="551.5" y="373.18" width="50.7" height="0.6" fill="#fff" opacity=".85"/><line x1="330" y1="475.4" x2="611.8" y2="475.4" stroke="#555" stroke-width="1"/></svg>
<div class="t" style="top:471.87px;font-size:7.6px;color:#222;font-weight:700;left:315.77px;">0</div>
<div class="t" style="top:442.78px;font-size:7.6px;color:#222;font-weight:700;left:311.55px;">25</div>
<div class="t" style="top:413.69px;font-size:7.6px;color:#222;font-weight:700;left:311.55px;">50</div>
<div class="t" style="top:384.60px;font-size:7.6px;color:#222;font-weight:700;left:311.55px;">75</div>
<div class="t" style="top:355.52px;font-size:7.6px;color:#222;font-weight:700;left:307.32px;">100</div>
<div class="t" style="top:361.74px;font-size:7.4px;color:#fff;font-weight:700;left:358.14px;text-shadow:0 0 1px #111,0 0 1px #111,0 0 1.5px #111;">15%</div>
<div class="t" style="top:412.14px;font-size:7.4px;color:#222;font-weight:700;left:358.14px;text-shadow:0 0 1px #fff,0 0 1.5px #fff;">70%</div>
<div class="t" style="top:361.74px;font-size:7.4px;color:#fff;font-weight:700;left:428.74px;text-shadow:0 0 1px #111,0 0 1px #111,0 0 1.5px #111;">15%</div>
<div class="t" style="top:412.14px;font-size:7.4px;color:#222;font-weight:700;left:428.74px;text-shadow:0 0 1px #fff,0 0 1.5px #fff;">70%</div>
<div class="t" style="top:361.74px;font-size:7.4px;color:#fff;font-weight:700;left:498.94px;text-shadow:0 0 1px #111,0 0 1px #111,0 0 1.5px #111;">15%</div>
<div class="t" style="top:412.14px;font-size:7.4px;color:#222;font-weight:700;left:498.94px;text-shadow:0 0 1px #fff,0 0 1.5px #fff;">70%</div>
<div class="t" style="top:361.74px;font-size:7.4px;color:#fff;font-weight:700;left:569.44px;text-shadow:0 0 1px #111,0 0 1px #111,0 0 1.5px #111;">15%</div>
<div class="t" style="top:412.14px;font-size:7.4px;color:#222;font-weight:700;left:569.44px;text-shadow:0 0 1px #fff,0 0 1.5px #fff;">70%</div>
<div class="t" style="top:491.14px;font-size:7.4px;color:#333;font-weight:700;letter-spacing:0.051px;left:348.25px;">Reading</div>
<div class="t" style="top:491.14px;font-size:7.4px;color:#333;font-weight:700;letter-spacing:-0.174px;left:418.95px;">Listening</div>
<div class="t" style="top:491.14px;font-size:7.4px;color:#333;font-weight:700;letter-spacing:-0.058px;left:493.90px;">Writing</div>
<div class="t" style="top:491.14px;font-size:7.4px;color:#333;font-weight:700;letter-spacing:-0.129px;left:562.10px;">Speaking</div>
<svg style="position:absolute;left:303.30px;top:511.00px;" width="8" height="8" viewBox="0 0 8 8"><circle cx="4" cy="4" r="3.0" fill="#2f3079"/></svg>
<div class="t" style="top:511.27px;font-size:7px;color:#444;left:314.60px;">C2</div>
<svg style="position:absolute;left:362.30px;top:511.00px;" width="8" height="8" viewBox="0 0 8 8"><circle cx="4" cy="4" r="2.35" fill="#8f92fb"/></svg>
<div class="t" style="top:511.27px;font-size:7px;color:#444;left:373.60px;">C1</div>
<svg style="position:absolute;left:420.00px;top:511.00px;" width="8" height="8" viewBox="0 0 8 8"><circle cx="4" cy="4" r="2.35" fill="#3987b3"/></svg>
<div class="t" style="top:511.27px;font-size:7px;color:#444;left:431.00px;">B2</div>
<svg style="position:absolute;left:477.60px;top:511.00px;" width="8" height="8" viewBox="0 0 8 8"><circle cx="4" cy="4" r="2.35" fill="#f29069"/></svg>
<div class="t" style="top:511.27px;font-size:7px;color:#444;left:488.70px;">B1</div>
<svg style="position:absolute;left:535.00px;top:511.00px;" width="8" height="8" viewBox="0 0 8 8"><circle cx="4" cy="4" r="2.35" fill="#0a7f5e"/></svg>
<div class="t" style="top:511.27px;font-size:7px;color:#444;left:546.00px;">A2</div>
<svg style="position:absolute;left:593.00px;top:511.00px;" width="8" height="8" viewBox="0 0 8 8"><circle cx="4" cy="4" r="2.35" fill="#e9f88f"/></svg>
<div class="t" style="top:511.27px;font-size:7px;color:#444;left:604.00px;">A1</div>
<div class="card" style="left:639px;top:303px;width:331px;height:228.9px;"></div>
<div class="t" style="top:320.19px;font-size:11px;color:#111;font-weight:700;transform:scaleX(0.9272);transform-origin:0 50%;left:651.40px;">Average Score Trends by Country</div>
<svg style="position:absolute;left:821.75px;top:318.95px;" width="12.5" height="12.5" viewBox="0 0 12.5 12.5"><circle cx="6.25" cy="6.25" r="4.75" fill="none" stroke="#3a3a7c" stroke-width="1"/><circle cx="6.25" cy="4.15" r="0.7" fill="#3a3a7c"/><rect x="5.7" y="5.35" width="1.1" height="3.6" fill="#3a3a7c"/></svg>
<svg style="position:absolute;left:947.30px;top:317.30px;" width="6" height="16" viewBox="0 0 6 16"><circle cx="3" cy="4.3" r="1.3" fill="#151515"/><circle cx="3" cy="8.0" r="1.3" fill="#151515"/><circle cx="3" cy="11.7" r="1.3" fill="#151515"/></svg>
<svg style="position:absolute;left:0.00px;top:0.00px;" width="1280" height="918" viewBox="0 0 1280 918"><line x1="675" y1="472.80" x2="957.6" y2="472.80" stroke="#e3e3e3" stroke-width="0.8" stroke-dasharray="1 1"/><line x1="675" y1="452.05" x2="957.6" y2="452.05" stroke="#e3e3e3" stroke-width="0.8" stroke-dasharray="1 1"/><line x1="675" y1="431.30" x2="957.6" y2="431.30" stroke="#e3e3e3" stroke-width="0.8" stroke-dasharray="1 1"/><line x1="675" y1="410.55" x2="957.6" y2="410.55" stroke="#e3e3e3" stroke-width="0.8" stroke-dasharray="1 1"/><line x1="675" y1="389.80" x2="957.6" y2="389.80" stroke="#e3e3e3" stroke-width="0.8" stroke-dasharray="1 1"/><line x1="675" y1="369.05" x2="957.6" y2="369.05" stroke="#e3e3e3" stroke-width="0.8" stroke-dasharray="1 1"/><line x1="675" y1="348.30" x2="957.6" y2="348.30" stroke="#e3e3e3" stroke-width="0.8" stroke-dasharray="1 1"/><line x1="699.5" y1="340" x2="699.5" y2="484" stroke="#e3e3e3" stroke-width="0.8" stroke-dasharray="1 1"/><line x1="746.4" y1="340" x2="746.4" y2="484" stroke="#e3e3e3" stroke-width="0.8" stroke-dasharray="1 1"/><line x1="793.3" y1="340" x2="793.3" y2="484" stroke="#e3e3e3" stroke-width="0.8" stroke-dasharray="1 1"/><line x1="840.2" y1="340" x2="840.2" y2="484" stroke="#e3e3e3" stroke-width="0.8" stroke-dasharray="1 1"/><line x1="887.1" y1="340" x2="887.1" y2="484" stroke="#e3e3e3" stroke-width="0.8" stroke-dasharray="1 1"/><line x1="934" y1="340" x2="934" y2="484" stroke="#e3e3e3" stroke-width="0.8" stroke-dasharray="1 1"/><defs><clipPath id="lc"><rect x="708.5" y="335" width="216.5" height="150"/></clipPath></defs><path d="M708 414.3 L750.6 426.7 L795.5 431.4 L841.4 416.5 L888 399.4 L925.2 409.5" fill="none" stroke="#b3dbe9" stroke-width="1.2" stroke-dasharray="1.3 0.8"/><path d="M708 443.8 L750.6 456.2 L795.5 446.1 L841.4 446.1 L888 428.9 L925.2 439.0" fill="none" stroke="#7a78d6" stroke-width="1.2" stroke-dasharray="1 1.6"/><path d="M708 466 L750.6 443.8 L795.5 453.7 L841.4 466 L888 417.1 L925.2 448.9" fill="none" stroke="#d7693f" stroke-width="1.3" stroke-dasharray="2.2 2"/><path d="M708 406.7 L750.6 419.4 L795.5 397.1 L841.4 409.5 L888 441.3 L925.2 401.9" fill="none" stroke="#12b08e" stroke-width="1.5" stroke-dasharray="4 1.6"/><path d="M708 374.9 L750.6 387.3 L795.5 365.1 L841.4 377.5 L888 370.1 L925.2 370.1" fill="none" stroke="#3d377f" stroke-width="1.4"/><circle cx="699.5" cy="414.3" r="2.9" fill="#4aa8d6"/><circle cx="746.4" cy="426.7" r="2.9" fill="#4aa8d6"/><circle cx="793.3" cy="431.4" r="2.9" fill="#4aa8d6"/><circle cx="840.2" cy="416.5" r="2.9" fill="#4aa8d6"/><circle cx="887.1" cy="399.4" r="2.9" fill="#4aa8d6"/><circle cx="934" cy="409.5" r="2.9" fill="#4aa8d6"/><circle cx="699.5" cy="443.8" r="2.9" fill="#7a78d6"/><circle cx="746.4" cy="456.2" r="2.9" fill="#7a78d6"/><circle cx="793.3" cy="446.1" r="2.9" fill="#7a78d6"/><circle cx="840.2" cy="446.1" r="2.9" fill="#7a78d6"/><circle cx="887.1" cy="428.9" r="2.9" fill="#7a78d6"/><circle cx="934" cy="439.0" r="2.9" fill="#7a78d6"/><circle cx="699.5" cy="466" r="2.9" fill="#d7693f"/><circle cx="746.4" cy="443.8" r="2.9" fill="#d7693f"/><circle cx="793.3" cy="453.7" r="2.9" fill="#d7693f"/><circle cx="840.2" cy="466" r="2.9" fill="#d7693f"/><circle cx="887.1" cy="417.1" r="2.9" fill="#d7693f"/><circle cx="934" cy="448.9" r="2.9" fill="#d7693f"/><circle cx="699.5" cy="406.7" r="2.9" fill="#12b08e"/><circle cx="746.4" cy="419.4" r="2.9" fill="#12b08e"/><circle cx="793.3" cy="397.1" r="2.9" fill="#12b08e"/><circle cx="840.2" cy="409.5" r="2.9" fill="#12b08e"/><circle cx="887.1" cy="441.3" r="2.9" fill="#12b08e"/><circle cx="934" cy="401.9" r="2.9" fill="#12b08e"/><circle cx="699.5" cy="374.9" r="2.7" fill="#fff" stroke="#3d377f" stroke-width="0.9"/><circle cx="746.4" cy="387.3" r="2.7" fill="#fff" stroke="#3d377f" stroke-width="0.9"/><circle cx="793.3" cy="365.1" r="2.7" fill="#fff" stroke="#3d377f" stroke-width="0.9"/><circle cx="840.2" cy="377.5" r="2.7" fill="#fff" stroke="#3d377f" stroke-width="0.9"/><circle cx="887.1" cy="370.1" r="2.7" fill="#fff" stroke="#3d377f" stroke-width="0.9"/><circle cx="934" cy="370.1" r="2.7" fill="#fff" stroke="#3d377f" stroke-width="0.9"/><line x1="651" y1="514" x2="665.7" y2="514" stroke="#3d377f" stroke-width="1.4"/><circle cx="658.4" cy="514" r="2.6" fill="#fff" stroke="#3d377f" stroke-width="0.9"/><line x1="714.4" y1="514" x2="729.1" y2="514" stroke="#7a78d6" stroke-width="1.4" stroke-dasharray="1 1.6"/><circle cx="721.7" cy="514" r="2.8" fill="#7a78d6"/><line x1="777.6" y1="514" x2="792.3000000000001" y2="514" stroke="#a9d6e8" stroke-width="1.4" stroke-dasharray="1 1.3"/><circle cx="785" cy="514" r="2.8" fill="#4aa8d6"/><line x1="840.9" y1="514" x2="855.6" y2="514" stroke="#12b08e" stroke-width="1.4" stroke-dasharray="4 1.6"/><circle cx="848.2" cy="514" r="2.8" fill="#12b08e"/><line x1="904.2" y1="514" x2="918.9000000000001" y2="514" stroke="#d7693f" stroke-width="1.4" stroke-dasharray="2.2 2"/><circle cx="911.5" cy="514" r="2.8" fill="#d7693f"/></svg>
<div class="t" style="top:469.17px;font-size:7.6px;color:#222;font-weight:700;left:661.09px;">0</div>
<div class="t" style="top:448.42px;font-size:7.6px;color:#222;font-weight:700;left:661.09px;">1</div>
<div class="t" style="top:427.67px;font-size:7.6px;color:#222;font-weight:700;left:661.09px;">2</div>
<div class="t" style="top:406.92px;font-size:7.6px;color:#222;font-weight:700;left:661.09px;">3</div>
<div class="t" style="top:386.17px;font-size:7.6px;color:#222;font-weight:700;left:661.09px;">4</div>
<div class="t" style="top:365.42px;font-size:7.6px;color:#222;font-weight:700;left:661.09px;">5</div>
<div class="t" style="top:344.67px;font-size:7.6px;color:#222;font-weight:700;left:661.09px;">6</div>
<div class="t" style="top:489.88px;font-size:7.7px;color:#222;font-weight:700;letter-spacing:0.157px;left:688.40px;">2020</div>
<div class="t" style="top:489.88px;font-size:7.7px;color:#222;font-weight:700;letter-spacing:0.157px;left:736.10px;">2021</div>
<div class="t" style="top:489.88px;font-size:7.7px;color:#222;font-weight:700;letter-spacing:0.157px;left:783.80px;">2022</div>
<div class="t" style="top:489.88px;font-size:7.7px;color:#222;font-weight:700;letter-spacing:0.157px;left:831.80px;">2023</div>
<div class="t" style="top:489.88px;font-size:7.7px;color:#222;font-weight:700;letter-spacing:0.157px;left:879.50px;">2024</div>
<div class="t" style="top:489.88px;font-size:7.7px;color:#222;font-weight:700;letter-spacing:0.157px;left:927.70px;">2025</div>
<div class="t" style="top:510.57px;font-size:7px;color:#444;letter-spacing:-0.108px;left:670.80px;">Average</div>
<div class="t" style="top:510.57px;font-size:7px;color:#444;letter-spacing:-0.096px;left:734.00px;">Reading</div>
<div class="t" style="top:510.57px;font-size:7px;color:#444;letter-spacing:0.060px;left:797.30px;">Listening</div>
<div class="t" style="top:510.57px;font-size:7px;color:#444;letter-spacing:-0.027px;left:860.60px;">Speaking</div>
<div class="t" style="top:510.57px;font-size:7px;color:#444;letter-spacing:0.141px;left:923.90px;">Writing</div>
<div class="card" style="left:984.6px;top:303px;width:216.6px;height:228.9px;"></div>
<div class="t" style="top:320.19px;font-size:11px;color:#111;font-weight:700;transform:scaleX(0.9450);transform-origin:0 50%;left:997.20px;">Gender Distribution</div>
<svg style="position:absolute;left:1100.25px;top:318.95px;" width="12.5" height="12.5" viewBox="0 0 12.5 12.5"><circle cx="6.25" cy="6.25" r="4.75" fill="none" stroke="#3a3a7c" stroke-width="1"/><circle cx="6.25" cy="4.15" r="0.7" fill="#3a3a7c"/><rect x="5.7" y="5.35" width="1.1" height="3.6" fill="#3a3a7c"/></svg>
<svg style="position:absolute;left:1177.60px;top:317.30px;" width="6" height="16" viewBox="0 0 6 16"><circle cx="3" cy="4.3" r="1.3" fill="#151515"/><circle cx="3" cy="8.0" r="1.3" fill="#151515"/><circle cx="3" cy="11.7" r="1.3" fill="#151515"/></svg>
<svg style="position:absolute;left:0.00px;top:0.00px;" width="1280" height="918" viewBox="0 0 1280 918"><path d="M1093.40 357.80 A56.2 56.2 0 0 1 1147.41 429.54 L1114.35 420.03 A21.8 21.8 0 0 0 1093.40 392.20 Z" fill="#7c7cd9" stroke="#23244a" stroke-width="0.75" stroke-linejoin="round"/><path d="M1147.41 429.54 A56.2 56.2 0 0 1 1094.14 470.20 L1093.69 435.80 A21.8 21.8 0 0 0 1114.35 420.03 Z" fill="#2f3079" stroke="#23244a" stroke-width="0.75" stroke-linejoin="round"/><path d="M1094.14 470.20 A56.2 56.2 0 0 1 1040.28 432.34 L1072.79 421.11 A21.8 21.8 0 0 0 1093.69 435.80 Z" fill="#4ba9d7" stroke="#23244a" stroke-width="0.75" stroke-linejoin="round"/><path d="M1040.28 432.34 A56.2 56.2 0 0 1 1045.61 384.43 L1074.86 402.53 A21.8 21.8 0 0 0 1072.79 421.11 Z" fill="#12b08e" stroke="#23244a" stroke-width="0.75" stroke-linejoin="round"/><path d="M1045.61 384.43 A56.2 56.2 0 0 1 1074.73 360.99 L1086.16 393.44 A21.8 21.8 0 0 0 1074.86 402.53 Z" fill="#e0794a" stroke="#23244a" stroke-width="0.75" stroke-linejoin="round"/><path d="M1074.73 360.99 A56.2 56.2 0 0 1 1093.40 357.80 L1093.40 392.20 A21.8 21.8 0 0 0 1086.16 393.44 Z" fill="#c9d87a" stroke="#23244a" stroke-width="0.75" stroke-linejoin="round"/><path d="M1025.8 363.2 L1084 363.2 Q1087.1 363.2 1087.1 366 L1087.1 368.2" stroke="#6b6b6b" stroke-width="0.8" fill="none"/><circle cx="1087.1" cy="368.4" r="1.4" fill="#444"/><path d="M1025.8 384.5 L1064.8 384.5" stroke="#6b6b6b" stroke-width="0.8" fill="none"/><circle cx="1064.8" cy="384.5" r="1.4" fill="#444"/><path d="M1025.8 407.8 L1051.7 407.8" stroke="#6b6b6b" stroke-width="0.8" fill="none"/><circle cx="1051.7" cy="407.8" r="1.4" fill="#444"/><path d="M1025.8 449.4 L1070.5 449.4 Q1074.3 449.4 1074.6 446 L1074.9 444.2" stroke="#6b6b6b" stroke-width="0.8" fill="none"/><circle cx="1074.9" cy="444.2" r="1.4" fill="#444"/><path d="M1160.7 386.7 L1129.5 386.7 Q1125.5 386.7 1123.1 388.9" stroke="#6b6b6b" stroke-width="0.8" fill="none"/><circle cx="1123.1" cy="388.9" r="1.4" fill="#444"/><path d="M1160.7 450.7 L1119 450.7 Q1114 450.7 1112.2 445.3" stroke="#6b6b6b" stroke-width="0.8" fill="none"/><circle cx="1112.2" cy="445.3" r="1.4" fill="#444"/><circle cx="999.4" cy="500.6" r="2.7" fill="#2f3079" stroke="#23244a" stroke-width="0.5"/><circle cx="1066.7" cy="500.6" r="2.7" fill="#c9d87a" stroke="#23244a" stroke-width="0.5"/><circle cx="1133.4" cy="500.6" r="2.7" fill="#12b08e" stroke="#23244a" stroke-width="0.5"/><circle cx="999.4" cy="514.2" r="2.7" fill="#7c7cd9" stroke="#23244a" stroke-width="0.5"/><circle cx="1066.7" cy="514.2" r="2.7" fill="#e0794a" stroke="#23244a" stroke-width="0.5"/><circle cx="1133.4" cy="514.2" r="2.7" fill="#4ba9d7" stroke="#23244a" stroke-width="0.5"/></svg>
<div class="t" style="top:359.94px;font-size:7.4px;color:#333;font-weight:700;left:1000.82px;">5.39%</div>
<div class="t" style="top:380.94px;font-size:7.4px;color:#333;font-weight:700;left:996.70px;">10.79%</div>
<div class="t" style="top:404.94px;font-size:7.4px;color:#333;font-weight:700;left:997.11px;">14.11%</div>
<div class="t" style="top:445.84px;font-size:7.4px;color:#333;font-weight:700;left:996.70px;">19.92%</div>
<div class="t" style="top:383.14px;font-size:7.4px;color:#333;font-weight:700;left:1162.90px;">29.46%</div>
<div class="t" style="top:447.14px;font-size:7.4px;color:#333;font-weight:700;left:1162.90px;">20.33%</div>
<div class="t" style="top:497.17px;font-size:7px;color:#444;letter-spacing:-0.158px;left:1006.80px;">Male</div>
<div class="t" style="top:497.17px;font-size:7px;color:#444;letter-spacing:0.037px;left:1074.00px;">Self Described</div>
<div class="t" style="top:497.17px;font-size:7px;color:#444;letter-spacing:-0.006px;left:1140.80px;">Declined</div>
<div class="t" style="top:510.77px;font-size:7px;color:#444;letter-spacing:-0.188px;left:1006.80px;">Female</div>
<div class="t" style="top:510.77px;font-size:7px;color:#444;letter-spacing:0.021px;left:1074.00px;">Non-Binary</div>
<div class="t" style="top:510.77px;font-size:7px;color:#444;letter-spacing:-0.111px;left:1140.80px;">No Response</div>
<div class="card" style="left:292.6px;top:546px;width:331.2px;height:230px;"></div>
<div class="t" style="top:563.89px;font-size:11px;color:#111;font-weight:700;transform:scaleX(0.9520);transform-origin:0 50%;left:305.30px;">Country Distribution</div>
<svg style="position:absolute;left:412.95px;top:562.75px;" width="12.5" height="12.5" viewBox="0 0 12.5 12.5"><circle cx="6.25" cy="6.25" r="4.75" fill="none" stroke="#3a3a7c" stroke-width="1"/><circle cx="6.25" cy="4.15" r="0.7" fill="#3a3a7c"/><rect x="5.7" y="5.35" width="1.1" height="3.6" fill="#3a3a7c"/></svg>
<div style="position:absolute;left:541.50px;top:559.30px;width:50.20px;height:19.40px;border:1px solid #4a4a86;border-radius:3px;background:#fff;"></div>
<div class="t" style="top:565.17px;font-size:8.3px;color:#2f3079;font-weight:700;letter-spacing:-0.353px;left:549.10px;">Map View</div>
<svg style="position:absolute;left:601.20px;top:561.00px;" width="6" height="16" viewBox="0 0 6 16"><circle cx="3" cy="4.3" r="1.3" fill="#151515"/><circle cx="3" cy="8.0" r="1.3" fill="#151515"/><circle cx="3" cy="11.7" r="1.3" fill="#151515"/></svg>
<div class="t" style="top:589.75px;font-size:8.8px;color:#111;font-weight:700;left:307.67px;">US</div>
<svg style="position:absolute;left:329.70px;top:588.30px;" width="14.7" height="11.4" viewBox="0 0 14.7 11.4"><rect x="0" y="0.00" width="14.7" height="0.93" fill="#c9404f"/><rect x="0" y="0.88" width="14.7" height="0.93" fill="#f3e9ea"/><rect x="0" y="1.75" width="14.7" height="0.93" fill="#c9404f"/><rect x="0" y="2.63" width="14.7" height="0.93" fill="#f3e9ea"/><rect x="0" y="3.51" width="14.7" height="0.93" fill="#c9404f"/><rect x="0" y="4.38" width="14.7" height="0.93" fill="#f3e9ea"/><rect x="0" y="5.26" width="14.7" height="0.93" fill="#c9404f"/><rect x="0" y="6.14" width="14.7" height="0.93" fill="#f3e9ea"/><rect x="0" y="7.02" width="14.7" height="0.93" fill="#c9404f"/><rect x="0" y="7.89" width="14.7" height="0.93" fill="#f3e9ea"/><rect x="0" y="8.77" width="14.7" height="0.93" fill="#c9404f"/><rect x="0" y="9.65" width="14.7" height="0.93" fill="#f3e9ea"/><rect x="0" y="10.52" width="14.7" height="0.93" fill="#c9404f"/><rect x="0" y="0" width="6.6" height="6.14" fill="#3f4d86"/><circle cx="1.00" cy="1.00" r=".32" fill="#c9d0e6"/><circle cx="1.00" cy="2.40" r=".32" fill="#c9d0e6"/><circle cx="1.00" cy="3.80" r=".32" fill="#c9d0e6"/><circle cx="1.00" cy="5.20" r=".32" fill="#c9d0e6"/><circle cx="2.50" cy="1.00" r=".32" fill="#c9d0e6"/><circle cx="2.50" cy="2.40" r=".32" fill="#c9d0e6"/><circle cx="2.50" cy="3.80" r=".32" fill="#c9d0e6"/><circle cx="2.50" cy="5.20" r=".32" fill="#c9d0e6"/><circle cx="4.00" cy="1.00" r=".32" fill="#c9d0e6"/><circle cx="4.00" cy="2.40" r=".32" fill="#c9d0e6"/><circle cx="4.00" cy="3.80" r=".32" fill="#c9d0e6"/><circle cx="4.00" cy="5.20" r=".32" fill="#c9d0e6"/><circle cx="5.50" cy="1.00" r=".32" fill="#c9d0e6"/><circle cx="5.50" cy="2.40" r=".32" fill="#c9d0e6"/><circle cx="5.50" cy="3.80" r=".32" fill="#c9d0e6"/><circle cx="5.50" cy="5.20" r=".32" fill="#c9d0e6"/></svg>
<div style="position:absolute;left:354.20px;top:590.60px;width:208.40px;height:7.20px;background:#e8e8fc;"></div>
<div style="position:absolute;left:354.20px;top:590.60px;width:208.40px;height:7.20px;background:#2f3079;"></div>
<div class="t" style="top:589.82px;font-size:8.6px;color:#333;left:572.50px;">24,500</div>
<div class="t" style="top:610.65px;font-size:8.8px;color:#111;font-weight:700;left:307.19px;">CN</div>
<svg style="position:absolute;left:329.70px;top:609.20px;" width="14.7" height="11.4" viewBox="0 0 14.7 11.4"><rect width="14.7" height="11.4" fill="#e8222a"/><circle cx="2.9" cy="3" r="1.4" fill="#f8d038"/><circle cx="5.2" cy="1.5" r=".4" fill="#f8d038"/><circle cx="6" cy="2.8" r=".4" fill="#f8d038"/><circle cx="5.9" cy="4.3" r=".4" fill="#f8d038"/></svg>
<div style="position:absolute;left:354.20px;top:611.50px;width:208.40px;height:7.20px;background:#e8e8fc;"></div>
<div style="position:absolute;left:354.20px;top:611.50px;width:175.80px;height:7.20px;background:#2f3079;"></div>
<div class="t" style="top:610.72px;font-size:8.6px;color:#333;left:572.50px;">2,800</div>
<div class="t" style="top:631.55px;font-size:8.8px;color:#111;font-weight:700;left:311.10px;">IN</div>
<svg style="position:absolute;left:329.70px;top:630.10px;" width="14.7" height="11.4" viewBox="0 0 14.7 11.4"><rect width="14.7" height="11.4" fill="#fbfbfb"/><rect width="14.7" height="3.8" fill="#f79a3b"/><rect y="7.6" width="14.7" height="3.8" fill="#3c9f2e"/><circle cx="7.35" cy="5.7" r="1.3" fill="none" stroke="#5b63b5" stroke-width=".5"/></svg>
<div style="position:absolute;left:354.20px;top:632.40px;width:208.40px;height:7.20px;background:#e8e8fc;"></div>
<div style="position:absolute;left:354.20px;top:632.40px;width:146.80px;height:7.20px;background:#2f3079;"></div>
<div class="t" style="top:631.62px;font-size:8.6px;color:#333;left:572.50px;">2,000</div>
<div class="t" style="top:652.45px;font-size:8.8px;color:#111;font-weight:700;left:307.19px;">AU</div>
<svg style="position:absolute;left:329.70px;top:651.00px;" width="14.7" height="11.4" viewBox="0 0 14.7 11.4"><rect width="14.7" height="11.4" fill="#1f2f9a"/><rect width="7" height="5.6" fill="#2b3aa0"/><path d="M0 0 L7 5.6 M7 0 L0 5.6" stroke="#f0e6ee" stroke-width="1.1"/><path d="M0 0 L7 5.6 M7 0 L0 5.6" stroke="#d8384a" stroke-width=".5"/><path d="M3.5 0 V5.6 M0 2.8 H7" stroke="#f3eef2" stroke-width="1.7"/><path d="M3.5 0 V5.6 M0 2.8 H7" stroke="#d8384a" stroke-width=".9"/><circle cx="3.6" cy="8.6" r="1.1" fill="#fff"/><circle cx="11.1" cy="2.3" r=".55" fill="#fff"/><circle cx="12.8" cy="4.6" r=".5" fill="#fff"/><circle cx="9.6" cy="5.2" r=".5" fill="#fff"/><circle cx="11.2" cy="9.2" r=".6" fill="#fff"/></svg>
<div style="position:absolute;left:354.20px;top:653.30px;width:208.40px;height:7.20px;background:#e8e8fc;"></div>
<div style="position:absolute;left:354.20px;top:653.30px;width:57.70px;height:7.20px;background:#2f3079;"></div>
<div class="t" style="top:652.52px;font-size:8.6px;color:#333;left:572.50px;">190</div>
<div class="t" style="top:673.35px;font-size:8.8px;color:#111;font-weight:700;left:307.67px;">SA</div>
<svg style="position:absolute;left:329.70px;top:671.90px;" width="14.7" height="11.4" viewBox="0 0 14.7 11.4"><rect width="14.7" height="11.4" fill="#3f9e3a"/><rect x="3.6" y="3.1" width="7.6" height="2.8" fill="#d6ead2" opacity=".9" rx=".4"/><rect x="4.2" y="3.8" width="6.4" height=".5" fill="#3f9e3a" opacity=".7"/><rect x="4.2" y="4.8" width="6.4" height=".4" fill="#3f9e3a" opacity=".6"/><rect x="4.4" y="7.4" width="6" height=".6" fill="#cfe6cb" opacity=".85"/></svg>
<div style="position:absolute;left:354.20px;top:674.20px;width:208.40px;height:7.20px;background:#e8e8fc;"></div>
<div style="position:absolute;left:354.20px;top:674.20px;width:42.50px;height:7.20px;background:#2f3079;"></div>
<div class="t" style="top:673.42px;font-size:8.6px;color:#333;left:572.50px;">160</div>
<div class="t" style="top:694.25px;font-size:8.8px;color:#111;font-weight:700;left:305.72px;">OM</div>
<svg style="position:absolute;left:329.70px;top:692.80px;" width="14.7" height="11.4" viewBox="0 0 14.7 11.4"><rect width="14.7" height="11.4" fill="#f6f6f6"/><rect y="3.8" width="14.7" height="3.8" fill="#d92a37"/><rect y="7.6" width="14.7" height="3.8" fill="#3d9a35"/><rect width="4.2" height="11.4" fill="#d92a37"/><rect x="1.1" y="0.9" width="2" height="1.9" fill="#f3c8cb"/></svg>
<div style="position:absolute;left:354.20px;top:695.10px;width:208.40px;height:7.20px;background:#e8e8fc;"></div>
<div style="position:absolute;left:354.20px;top:695.10px;width:25.60px;height:7.20px;background:#2f3079;"></div>
<div class="t" style="top:694.32px;font-size:8.6px;color:#333;left:572.50px;">120</div>
<div class="t" style="top:715.15px;font-size:8.8px;color:#111;font-weight:700;left:307.67px;">DE</div>
<svg style="position:absolute;left:329.70px;top:713.70px;" width="14.7" height="11.4" viewBox="0 0 14.7 11.4"><rect width="14.7" height="11.4" fill="#101010"/><rect y="3.8" width="14.7" height="3.8" fill="#e2262b"/><rect y="7.6" width="14.7" height="3.8" fill="#f8c61c"/></svg>
<div style="position:absolute;left:354.20px;top:716.00px;width:208.40px;height:7.20px;background:#e8e8fc;"></div>
<div style="position:absolute;left:354.20px;top:716.00px;width:25.60px;height:7.20px;background:#2f3079;"></div>
<div class="t" style="top:715.22px;font-size:8.6px;color:#333;left:572.50px;">120</div>
<div class="t" style="top:750.49px;font-size:8.4px;color:#555;transform:scaleX(0.9058);transform-origin:0 50%;left:307.30px;">Page Size:</div>
<div style="position:absolute;left:349.50px;top:746.10px;width:43.80px;height:16.60px;border:1px solid #9b9b9b;border-radius:3px;background:#fff;"></div>
<div class="t" style="top:750.34px;font-size:8.7px;color:#333;left:359.00px;">10</div>
<svg style="position:absolute;left:379.40px;top:752.20px;" width="7" height="5" viewBox="0 0 7 5"><path d="M0.7 0.9 L6.3 0.9 L3.5 3.9 Z" fill="#222"/></svg>
<div class="t" style="top:750.42px;font-size:8.6px;color:#555;letter-spacing:0.015px;left:415.30px;"><b style="color:#111">1</b> to <b style="color:#111">10</b> of <b style="color:#111">150</b></div>
<svg style="position:absolute;left:493.00px;top:749.80px;" width="9" height="9" viewBox="0 0 9 9"><path d="M1.6 1 V8 M7.4 1.2 L4.1 4.5 L7.4 7.8" stroke="#222" stroke-width="1.2" fill="none"/></svg>
<svg style="position:absolute;left:510.50px;top:749.80px;" width="9" height="9" viewBox="0 0 9 9"><path d="M6.2 1.2 L2.9 4.5 L6.2 7.8" stroke="#222" stroke-width="1.2" fill="none"/></svg>
<div class="t" style="top:750.42px;font-size:8.6px;color:#555;transform:scaleX(0.9288);transform-origin:0 50%;left:526.60px;">Page <b style="color:#111">1</b> of <b style="color:#111">15</b></div>
<svg style="position:absolute;left:579.60px;top:749.80px;" width="9" height="9" viewBox="0 0 9 9"><path d="M2.8 1.2 L6.1 4.5 L2.8 7.8" stroke="#222" stroke-width="1.2" fill="none"/></svg>
<svg style="position:absolute;left:596.40px;top:749.80px;" width="9" height="9" viewBox="0 0 9 9"><path d="M1.6 1.2 L4.9 4.5 L1.6 7.8 M7.4 1 V8" stroke="#222" stroke-width="1.2" fill="none"/></svg>
<div class="card" style="left:639px;top:546px;width:331px;height:230px;"></div>
<div class="t" style="top:563.39px;font-size:11px;color:#111;font-weight:700;transform:scaleX(0.9258);transform-origin:0 50%;left:651.10px;">Regional Score Distribution</div>
<svg style="position:absolute;left:790.55px;top:562.35px;" width="12.5" height="12.5" viewBox="0 0 12.5 12.5"><circle cx="6.25" cy="6.25" r="4.75" fill="none" stroke="#3a3a7c" stroke-width="1"/><circle cx="6.25" cy="4.15" r="0.7" fill="#3a3a7c"/><rect x="5.7" y="5.35" width="1.1" height="3.6" fill="#3a3a7c"/></svg>
<svg style="position:absolute;left:947.00px;top:560.80px;" width="6" height="16" viewBox="0 0 6 16"><circle cx="3" cy="4.3" r="1.3" fill="#151515"/><circle cx="3" cy="8.0" r="1.3" fill="#151515"/><circle cx="3" cy="11.7" r="1.3" fill="#151515"/></svg>
<div style="position:absolute;left:651.10px;top:587.60px;width:306.50px;height:29.00px;background:#f7f7f7;border-bottom:1px solid #e0e0e0;"></div>
<div class="t" style="top:597.87px;font-size:8.3px;color:#111;font-weight:700;letter-spacing:-0.294px;left:660.90px;">City</div>
<div class="t" style="top:597.87px;font-size:8.3px;color:#111;font-weight:700;letter-spacing:-0.082px;left:763.00px;">Candidates</div>
<div class="t" style="top:597.87px;font-size:8.3px;color:#111;font-weight:700;letter-spacing:-0.207px;left:865.40px;">Mean Total Score</div>
<svg style="position:absolute;left:733.00px;top:593.90px;" width="6" height="16" viewBox="0 0 6 16"><circle cx="3" cy="4.6" r="1.0" fill="#222"/><circle cx="3" cy="8.0" r="1.0" fill="#222"/><circle cx="3" cy="11.4" r="1.0" fill="#222"/></svg>
<svg style="position:absolute;left:835.10px;top:593.90px;" width="6" height="16" viewBox="0 0 6 16"><circle cx="3" cy="4.6" r="1.0" fill="#222"/><circle cx="3" cy="8.0" r="1.0" fill="#222"/><circle cx="3" cy="11.4" r="1.0" fill="#222"/></svg>
<svg style="position:absolute;left:938.30px;top:593.90px;" width="6" height="16" viewBox="0 0 6 16"><circle cx="3" cy="4.6" r="1.0" fill="#222"/><circle cx="3" cy="8.0" r="1.0" fill="#222"/><circle cx="3" cy="11.4" r="1.0" fill="#222"/></svg>
<div style="position:absolute;left:752.40px;top:597.50px;width:1.00px;height:9.00px;background:#dcdcdc;"></div>
<div style="position:absolute;left:854.50px;top:597.50px;width:1.00px;height:9.00px;background:#dcdcdc;"></div>
<div class="t" style="top:625.37px;font-size:8.3px;color:#333;left:660.90px;">Toronto</div>
<div class="t" style="top:625.37px;font-size:8.3px;color:#333;left:763.00px;">65</div>
<div class="t" style="top:625.37px;font-size:8.3px;color:#333;left:865.40px;">4.5</div>
<div style="position:absolute;left:651.10px;top:640.80px;width:306.50px;height:1.00px;background:#f1f1f1;"></div>
<div class="t" style="top:649.87px;font-size:8.3px;color:#333;left:660.90px;">Tokyo</div>
<div class="t" style="top:649.87px;font-size:8.3px;color:#333;left:763.00px;">88</div>
<div class="t" style="top:649.87px;font-size:8.3px;color:#333;left:865.40px;">4.0</div>
<div style="position:absolute;left:651.10px;top:665.30px;width:306.50px;height:1.00px;background:#f1f1f1;"></div>
<div class="t" style="top:674.37px;font-size:8.3px;color:#333;left:660.90px;">Sydney</div>
<div class="t" style="top:674.37px;font-size:8.3px;color:#333;left:763.00px;">44</div>
<div class="t" style="top:674.37px;font-size:8.3px;color:#333;left:865.40px;">4.5</div>
<div style="position:absolute;left:651.10px;top:689.80px;width:306.50px;height:1.00px;background:#f1f1f1;"></div>
<div class="t" style="top:698.87px;font-size:8.3px;color:#333;left:660.90px;">Shanghai</div>
<div class="t" style="top:698.87px;font-size:8.3px;color:#333;left:763.00px;">105</div>
<div class="t" style="top:698.87px;font-size:8.3px;color:#333;left:865.40px;">4.5</div>
<div style="position:absolute;left:651.10px;top:714.30px;width:306.50px;height:1.00px;background:#f1f1f1;"></div>
<div class="t" style="top:723.37px;font-size:8.3px;color:#333;left:660.90px;">Sao Paulo</div>
<div class="t" style="top:723.37px;font-size:8.3px;color:#333;left:763.00px;">56</div>
<div class="t" style="top:723.37px;font-size:8.3px;color:#333;left:865.40px;">3.5</div>
<div class="t" style="top:749.39px;font-size:8.4px;color:#555;transform:scaleX(0.9058);transform-origin:0 50%;left:653.30px;">Page Size:</div>
<div style="position:absolute;left:695.50px;top:743.50px;width:43.80px;height:19.20px;border:1px solid #9b9b9b;border-radius:3px;background:#fff;"></div>
<div class="t" style="top:749.24px;font-size:8.7px;color:#333;left:705.00px;">10</div>
<svg style="position:absolute;left:725.40px;top:751.10px;" width="7" height="5" viewBox="0 0 7 5"><path d="M0.7 0.9 L6.3 0.9 L3.5 3.9 Z" fill="#222"/></svg>
<div class="t" style="top:749.32px;font-size:8.6px;color:#555;letter-spacing:0.015px;left:761.30px;"><b style="color:#111">1</b> to <b style="color:#111">10</b> of <b style="color:#111">150</b></div>
<svg style="position:absolute;left:839.00px;top:748.70px;" width="9" height="9" viewBox="0 0 9 9"><path d="M1.6 1 V8 M7.4 1.2 L4.1 4.5 L7.4 7.8" stroke="#222" stroke-width="1.2" fill="none"/></svg>
<svg style="position:absolute;left:856.50px;top:748.70px;" width="9" height="9" viewBox="0 0 9 9"><path d="M6.2 1.2 L2.9 4.5 L6.2 7.8" stroke="#222" stroke-width="1.2" fill="none"/></svg>
<div class="t" style="top:749.32px;font-size:8.6px;color:#555;transform:scaleX(0.9288);transform-origin:0 50%;left:872.60px;">Page <b style="color:#111">1</b> of <b style="color:#111">15</b></div>
<svg style="position:absolute;left:925.60px;top:748.70px;" width="9" height="9" viewBox="0 0 9 9"><path d="M2.8 1.2 L6.1 4.5 L2.8 7.8" stroke="#222" stroke-width="1.2" fill="none"/></svg>
<svg style="position:absolute;left:942.40px;top:748.70px;" width="9" height="9" viewBox="0 0 9 9"><path d="M1.6 1.2 L4.9 4.5 L1.6 7.8 M7.4 1 V8" stroke="#222" stroke-width="1.2" fill="none"/></svg>
<div class="card" style="left:984.6px;top:546px;width:216.6px;height:230px;"></div>
<div class="t" style="top:560.99px;font-size:11px;color:#111;font-weight:700;transform:scaleX(0.9196);transform-origin:0 50%;left:997.20px;">Institutions Favored by Your</div>
<div class="t" style="top:575.19px;font-size:11px;color:#111;font-weight:700;transform:scaleX(0.9354);transform-origin:0 50%;left:997.20px;">Applicants</div>
<svg style="position:absolute;left:1054.45px;top:573.95px;" width="12.5" height="12.5" viewBox="0 0 12.5 12.5"><circle cx="6.25" cy="6.25" r="4.75" fill="none" stroke="#3a3a7c" stroke-width="1"/><circle cx="6.25" cy="4.15" r="0.7" fill="#3a3a7c"/><rect x="5.7" y="5.35" width="1.1" height="3.6" fill="#3a3a7c"/></svg>
<div class="t" style="top:599.22px;font-size:8.6px;color:#111;font-weight:700;left:1001.42px;">1</div>
<svg style="position:absolute;left:1011.10px;top:597.25px;" width="12.3" height="12.3" viewBox="0 0 12.3 12.3"><rect width="12.3" height="12.3" rx="1.6" fill="#5b1a9a"/><rect x="3.7" y="2.6" width="4.9" height="6.9" rx=".4" fill="#fff"/><rect x="5.3" y="3.7" width="1.7" height="2.3" fill="#5b1a9a"/><rect x="4.5" y="7.6" width="3.3" height=".6" fill="#5b1a9a" opacity=".55"/></svg>
<div class="t" style="top:599.29px;font-size:8.4px;color:#444;letter-spacing:-0.172px;left:1028.60px;">New York University</div>
<div class="t" style="top:616.44px;font-size:8.6px;color:#111;font-weight:700;left:1001.42px;">2</div>
<svg style="position:absolute;left:1011.10px;top:614.47px;" width="12.3" height="12.3" viewBox="0 0 12.3 12.3"><rect width="12.3" height="12.3" rx="1.6" fill="#1f3f8a"/><path d="M2.7 2.3 H9.6 V6.6 C9.6 8.8 7.7 10 6.15 10.6 C4.6 10 2.7 8.8 2.7 6.6 Z" fill="#c7d3ec" opacity=".9"/><path d="M3.6 4.2 H8.7 V6.5 C8.7 8.1 7.3 9 6.15 9.5 C5 9 3.6 8.1 3.6 6.5 Z" fill="#1f3f8a" opacity=".75"/><circle cx="6.15" cy="6.3" r="1.2" fill="#c7d3ec" opacity=".8"/></svg>
<div class="t" style="top:616.51px;font-size:8.4px;color:#444;letter-spacing:-0.074px;left:1028.60px;">Johns Hopkins University</div>
<svg style="position:absolute;left:1128.80px;top:618.62px;" width="4" height="4" viewBox="0 0 4 4"><path d="M0.3 3.2 L3.2 3.2 L1.75 0.8 Z" fill="#0b8a5f"/></svg>
<div class="t" style="top:616.44px;font-size:8.6px;color:#0b8a5f;font-weight:700;left:1133.20px;">3</div>
<div class="t" style="top:633.66px;font-size:8.6px;color:#111;font-weight:700;left:1001.42px;">3</div>
<svg style="position:absolute;left:1011.10px;top:631.69px;" width="12.3" height="12.3" viewBox="0 0 12.3 12.3"><rect width="12.3" height="12.3" rx="1.6" fill="#f7f7fb"/><circle cx="6.15" cy="6.15" r="4.45" fill="#fdfdfd" stroke="#27327f" stroke-width="1.7"/><circle cx="6.15" cy="6.15" r="2.4" fill="none" stroke="#c5c9e2" stroke-width=".7"/><rect x="5.85" y="4.6" width=".6" height="3.1" fill="#aab0d4"/></svg>
<div class="t" style="top:633.73px;font-size:8.4px;color:#444;letter-spacing:-0.116px;left:1028.60px;">Duke University</div>
<svg style="position:absolute;left:1094.00px;top:635.84px;" width="4" height="4" viewBox="0 0 4 4"><path d="M0.3 0.8 L3.2 0.8 L1.75 3.2 Z" fill="#c01818"/></svg>
<div class="t" style="top:633.66px;font-size:8.6px;color:#c01818;font-weight:700;left:1098.40px;">1</div>
<div class="t" style="top:650.88px;font-size:8.6px;color:#111;font-weight:700;left:1001.42px;">4</div>
<svg style="position:absolute;left:1011.10px;top:648.91px;" width="12.3" height="12.3" viewBox="0 0 12.3 12.3"><rect width="12.3" height="12.3" rx="1.6" fill="#1a1a1a"/><path d="M3.3 3 H5.2 V5 H7.1 V3 H9 V7.3 C9 9.3 6.15 10.2 6.15 10.2 C6.15 10.2 3.3 9.3 3.3 7.3 Z" fill="#e7b524"/><rect x="5.1" y="6.2" width="2.1" height="1.5" fill="#1a1a1a" opacity=".85"/></svg>
<div class="t" style="top:650.95px;font-size:8.4px;color:#444;letter-spacing:-0.106px;left:1028.60px;">University of Missouri</div>
<div class="t" style="top:668.10px;font-size:8.6px;color:#111;font-weight:700;left:1001.42px;">5</div>
<svg style="position:absolute;left:1011.10px;top:666.13px;" width="12.3" height="12.3" viewBox="0 0 12.3 12.3"><rect width="12.3" height="12.3" rx="1.6" fill="#fbf7f8"/><circle cx="6.15" cy="6.15" r="5.1" fill="#b8334c"/><circle cx="6.15" cy="6.15" r="3.1" fill="none" stroke="#e9b9c3" stroke-width="1"/><circle cx="6.15" cy="6.15" r="1.1" fill="#e9b9c3"/><rect x="5.7" y="1.2" width=".9" height="2.2" fill="#e9b9c3"/></svg>
<div class="t" style="top:668.17px;font-size:8.4px;color:#444;letter-spacing:-0.090px;left:1028.60px;">Ohio State University</div>
<svg style="position:absolute;left:1112.20px;top:670.28px;" width="4" height="4" viewBox="0 0 4 4"><path d="M0.3 0.8 L3.2 0.8 L1.75 3.2 Z" fill="#c01818"/></svg>
<div class="t" style="top:668.10px;font-size:8.6px;color:#c01818;font-weight:700;left:1116.60px;">2</div>
<div class="t" style="top:685.32px;font-size:8.6px;color:#111;font-weight:700;left:1001.42px;">6</div>
<svg style="position:absolute;left:1011.10px;top:683.35px;" width="12.3" height="12.3" viewBox="0 0 12.3 12.3"><rect width="12.3" height="12.3" rx="1.6" fill="#d5691c"/><path d="M3.1 2.5 H9.2 V7.2 C9.2 9.3 6.15 10.6 6.15 10.6 C6.15 10.6 3.1 9.3 3.1 7.2 Z" fill="none" stroke="#f3cfae" stroke-width=".9"/><path d="M4.6 4 L6.15 8.6 L7.7 4" fill="none" stroke="#f3cfae" stroke-width=".9"/><rect x="5.8" y="3.6" width=".7" height="3.5" fill="#f3cfae"/></svg>
<div class="t" style="top:685.39px;font-size:8.4px;color:#444;letter-spacing:-0.169px;left:1028.60px;">University of Texas</div>
<div class="t" style="top:702.54px;font-size:8.6px;color:#111;font-weight:700;left:1001.42px;">7</div>
<svg style="position:absolute;left:1011.10px;top:700.57px;" width="12.3" height="12.3" viewBox="0 0 12.3 12.3"><rect width="12.3" height="12.3" rx="1.6" fill="#fbfafa"/><path d="M3.1 2.6 H9.2 V7.2 C9.2 9.2 6.15 10.7 6.15 10.7 C6.15 10.7 3.1 9.2 3.1 7.2 Z" fill="#b5243a"/><rect x="4.9" y="3.7" width=".8" height="4.2" fill="#f1d5da"/><rect x="6.6" y="3.7" width=".8" height="4.2" fill="#f1d5da"/><rect x="4.9" y="5.4" width="2.5" height=".7" fill="#f1d5da"/></svg>
<div class="t" style="top:702.61px;font-size:8.4px;color:#444;letter-spacing:-0.093px;left:1028.60px;">Harvard University</div>
<div class="t" style="top:719.76px;font-size:8.6px;color:#111;font-weight:700;left:1001.42px;">8</div>
<svg style="position:absolute;left:1011.10px;top:717.79px;" width="12.3" height="12.3" viewBox="0 0 12.3 12.3"><rect width="12.3" height="12.3" rx="1.6" fill="#0f2a52"/><path d="M2.6 3.6 H5.1 L6.15 5.4 L7.2 3.6 H9.7 V4.9 H9 V7.4 H9.7 V8.7 H7 V7.4 H7.5 V6 L6.15 8 L4.8 6 V7.4 H5.3 V8.7 H2.6 V7.4 H3.3 V4.9 H2.6 Z" fill="#f6c70f"/></svg>
<div class="t" style="top:719.83px;font-size:8.4px;color:#444;letter-spacing:-0.113px;left:1028.60px;">University of Michigan</div>
<div class="t" style="top:736.98px;font-size:8.6px;color:#111;font-weight:700;left:1001.42px;">9</div>
<svg style="position:absolute;left:1011.10px;top:735.01px;" width="12.3" height="12.3" viewBox="0 0 12.3 12.3"><rect width="12.3" height="12.3" rx="1.6" fill="#1c4ea0"/><path d="M2.9 2.5 H9.4 V6.8 C9.4 8.9 6.15 10.4 6.15 10.4 C6.15 10.4 2.9 8.9 2.9 6.8 Z" fill="#f2c531"/><rect x="2.9" y="4.4" width="6.5" height="1.3" fill="#23509c" opacity=".85"/><rect x="3.4" y="2.9" width="5.5" height="1" fill="#dfe5f0" opacity=".75"/><circle cx="6.15" cy="7.6" r="1.1" fill="#23509c" opacity=".8"/></svg>
<div class="t" style="top:737.05px;font-size:8.4px;color:#444;letter-spacing:-0.097px;left:1028.60px;">University of Rochester</div>
<div class="t" style="top:754.20px;font-size:8.6px;color:#111;font-weight:700;left:996.63px;">10</div>
<svg style="position:absolute;left:1011.10px;top:752.23px;" width="12.3" height="12.3" viewBox="0 0 12.3 12.3"><rect width="12.3" height="12.3" rx="1.6" fill="#d0203a"/><path d="M3.2 3.2 L9 9" fill="none" stroke="#fff" stroke-width="1.5"/><path d="M3.6 9.4 V4.6 M8.7 7.8 V3" fill="none" stroke="#f6c9d0" stroke-width=".9"/></svg>
<div class="t" style="top:754.27px;font-size:8.4px;color:#444;letter-spacing:-0.017px;left:1028.60px;">Northeastern University</div>
<div style="position:absolute;left:292.80px;top:805.20px;width:908.00px;height:51.00px;background:#fff;border:1px solid #dfdfe3;border-radius:5px;"></div>
<div class="t" style="top:819.00px;font-size:7.8px;color:#555;letter-spacing:0.007px;left:305.00px;">Support Services</div>
<div class="t" style="top:833.11px;font-size:9.2px;color:#2f3079;font-weight:700;letter-spacing:-0.168px;left:305.00px;">Process &amp; Technical Answers</div>
<div class="t" style="top:865.53px;font-size:8px;color:#444;letter-spacing:-0.209px;left:293.00px;">Copyright © 2025 by ETS. All rights reserved. All trademarks are property of their respective owners.</div>
<div style="position:absolute;left:1171.20px;top:826.00px;width:29.60px;height:29.60px;background:#2f3079;border-radius:50%;box-shadow:0 2px 5px rgba(40,40,100,.35);"></div>
<svg style="position:absolute;left:1177.30px;top:832.50px;" width="17" height="17" viewBox="0 0 17 17"><line x1="8.5" y1="0.7" x2="8.5" y2="16.3" stroke="#fff" stroke-width="2.1" stroke-linecap="butt"/><line x1="1.1" y1="8.5" x2="15.9" y2="8.5" stroke="#fff" stroke-width="2.1" stroke-linecap="butt"/><line x1="3.1" y1="3.3" x2="14.3" y2="13.9" stroke="#fff" stroke-width="2.1" stroke-linecap="butt"/><line x1="5.2" y1="14.4" x2="15.6" y2="4.2" stroke="#2f3079" stroke-width="1.3"/><line x1="3.1" y1="13.9" x2="14.2" y2="3.1" stroke="#fff" stroke-width="2.1" stroke-linecap="butt"/></svg>
</div></div>
</body></html>
